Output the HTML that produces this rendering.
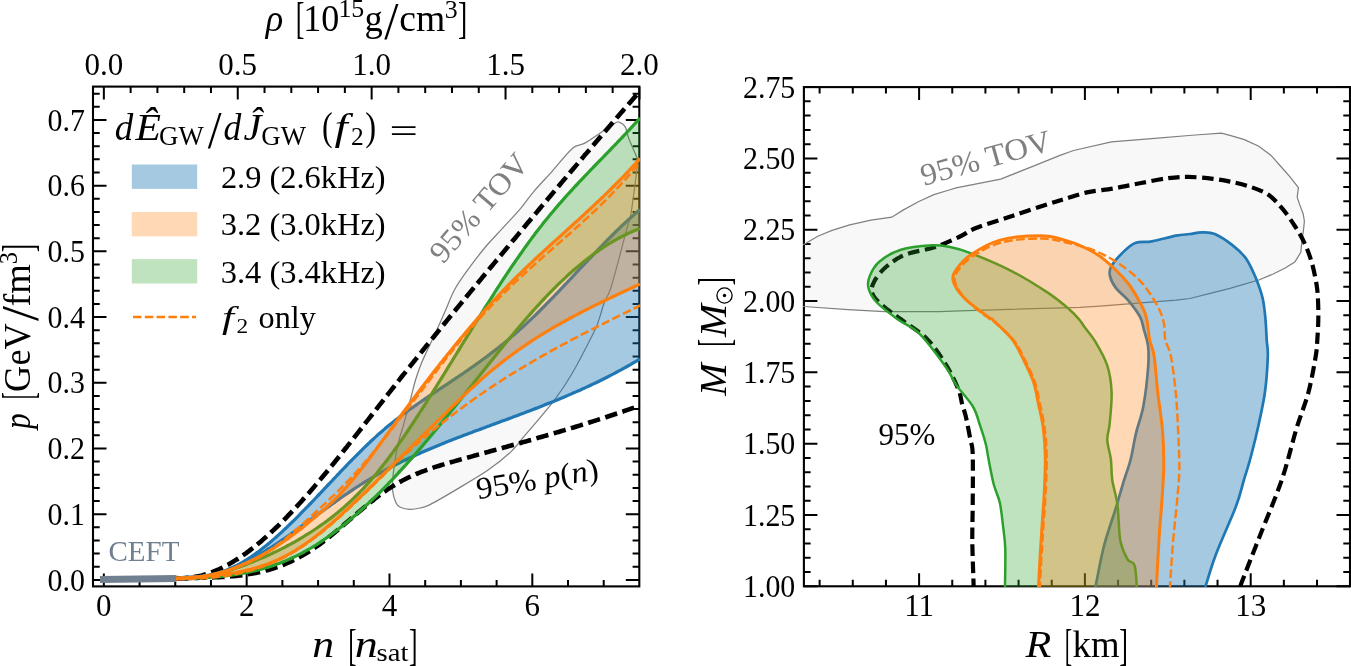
<!DOCTYPE html><html><head><meta charset="utf-8"><style>html,body{margin:0;padding:0;background:#fff;overflow:hidden}svg{display:block;will-change:transform}text{font-family:"Liberation Serif",serif}</style></head><body>
<svg width="1351" height="666" viewBox="0 0 1351 666">
<rect width="1351" height="666" fill="#fff"/>
<defs><clipPath id="cl"><rect x="92.2" y="85.8" width="547.9" height="501.4"/></clipPath>
<clipPath id="cr"><rect x="803.1" y="86.3" width="547.7" height="500.8"/></clipPath></defs>
<path d="M103.85,586.40 V573.40 M139.56,586.40 V579.90 M175.26,586.40 V579.90 M210.96,586.40 V579.90 M246.67,586.40 V573.40 M282.38,586.40 V579.90 M318.08,586.40 V579.90 M353.78,586.40 V579.90 M389.49,586.40 V573.40 M425.19,586.40 V579.90 M460.90,586.40 V579.90 M496.61,586.40 V579.90 M532.31,586.40 V573.40 M568.01,586.40 V579.90 M603.72,586.40 V579.90 M103.85,86.60 V99.60 M130.63,86.60 V93.10 M157.41,86.60 V93.10 M184.19,86.60 V93.10 M210.97,86.60 V93.10 M237.75,86.60 V99.60 M264.52,86.60 V93.10 M291.30,86.60 V93.10 M318.08,86.60 V93.10 M344.86,86.60 V93.10 M371.64,86.60 V99.60 M398.42,86.60 V93.10 M425.20,86.60 V93.10 M451.98,86.60 V93.10 M478.76,86.60 V93.10 M505.54,86.60 V99.60 M532.31,86.60 V93.10 M559.09,86.60 V93.10 M585.87,86.60 V93.10 M612.65,86.60 V93.10 M639.43,86.60 V99.60 M93.00,579.90 H106.50 M639.30,579.90 H625.80 M93.00,566.76 H99.70 M639.30,566.76 H632.60 M93.00,553.62 H99.70 M639.30,553.62 H632.60 M93.00,540.47 H99.70 M639.30,540.47 H632.60 M93.00,527.33 H99.70 M639.30,527.33 H632.60 M93.00,514.19 H106.50 M639.30,514.19 H625.80 M93.00,501.05 H99.70 M639.30,501.05 H632.60 M93.00,487.91 H99.70 M639.30,487.91 H632.60 M93.00,474.76 H99.70 M639.30,474.76 H632.60 M93.00,461.62 H99.70 M639.30,461.62 H632.60 M93.00,448.48 H106.50 M639.30,448.48 H625.80 M93.00,435.34 H99.70 M639.30,435.34 H632.60 M93.00,422.20 H99.70 M639.30,422.20 H632.60 M93.00,409.05 H99.70 M639.30,409.05 H632.60 M93.00,395.91 H99.70 M639.30,395.91 H632.60 M93.00,382.77 H106.50 M639.30,382.77 H625.80 M93.00,369.63 H99.70 M639.30,369.63 H632.60 M93.00,356.49 H99.70 M639.30,356.49 H632.60 M93.00,343.34 H99.70 M639.30,343.34 H632.60 M93.00,330.20 H99.70 M639.30,330.20 H632.60 M93.00,317.06 H106.50 M639.30,317.06 H625.80 M93.00,303.92 H99.70 M639.30,303.92 H632.60 M93.00,290.78 H99.70 M639.30,290.78 H632.60 M93.00,277.63 H99.70 M639.30,277.63 H632.60 M93.00,264.49 H99.70 M639.30,264.49 H632.60 M93.00,251.35 H106.50 M639.30,251.35 H625.80 M93.00,238.21 H99.70 M639.30,238.21 H632.60 M93.00,225.07 H99.70 M639.30,225.07 H632.60 M93.00,211.92 H99.70 M639.30,211.92 H632.60 M93.00,198.78 H99.70 M639.30,198.78 H632.60 M93.00,185.64 H106.50 M639.30,185.64 H625.80 M93.00,172.50 H99.70 M639.30,172.50 H632.60 M93.00,159.36 H99.70 M639.30,159.36 H632.60 M93.00,146.21 H99.70 M639.30,146.21 H632.60 M93.00,133.07 H99.70 M639.30,133.07 H632.60 M93.00,119.93 H106.50 M639.30,119.93 H625.80 M93.00,106.79 H99.70 M639.30,106.79 H632.60 M93.00,93.65 H99.70 M639.30,93.65 H632.60" stroke="#000" stroke-width="2" fill="none"/>
<path d="M819.62,586.30 V579.80 M819.62,87.10 V93.60 M852.78,586.30 V579.80 M852.78,87.10 V93.60 M885.94,586.30 V579.80 M885.94,87.10 V93.60 M919.10,586.30 V573.30 M919.10,87.10 V100.10 M952.26,586.30 V579.80 M952.26,87.10 V93.60 M985.42,586.30 V579.80 M985.42,87.10 V93.60 M1018.58,586.30 V579.80 M1018.58,87.10 V93.60 M1051.74,586.30 V579.80 M1051.74,87.10 V93.60 M1084.90,586.30 V573.30 M1084.90,87.10 V100.10 M1118.06,586.30 V579.80 M1118.06,87.10 V93.60 M1151.22,586.30 V579.80 M1151.22,87.10 V93.60 M1184.38,586.30 V579.80 M1184.38,87.10 V93.60 M1217.54,586.30 V579.80 M1217.54,87.10 V93.60 M1250.70,586.30 V573.30 M1250.70,87.10 V100.10 M1283.86,586.30 V579.80 M1283.86,87.10 V93.60 M1317.02,586.30 V579.80 M1317.02,87.10 V93.60 M803.90,586.30 H817.40 M1350.00,586.30 H1336.50 M803.90,572.04 H810.60 M1350.00,572.04 H1343.30 M803.90,557.77 H810.60 M1350.00,557.77 H1343.30 M803.90,543.51 H810.60 M1350.00,543.51 H1343.30 M803.90,529.25 H810.60 M1350.00,529.25 H1343.30 M803.90,514.98 H817.40 M1350.00,514.98 H1336.50 M803.90,500.72 H810.60 M1350.00,500.72 H1343.30 M803.90,486.46 H810.60 M1350.00,486.46 H1343.30 M803.90,472.20 H810.60 M1350.00,472.20 H1343.30 M803.90,457.93 H810.60 M1350.00,457.93 H1343.30 M803.90,443.67 H817.40 M1350.00,443.67 H1336.50 M803.90,429.41 H810.60 M1350.00,429.41 H1343.30 M803.90,415.14 H810.60 M1350.00,415.14 H1343.30 M803.90,400.88 H810.60 M1350.00,400.88 H1343.30 M803.90,386.62 H810.60 M1350.00,386.62 H1343.30 M803.90,372.35 H817.40 M1350.00,372.35 H1336.50 M803.90,358.09 H810.60 M1350.00,358.09 H1343.30 M803.90,343.83 H810.60 M1350.00,343.83 H1343.30 M803.90,329.57 H810.60 M1350.00,329.57 H1343.30 M803.90,315.30 H810.60 M1350.00,315.30 H1343.30 M803.90,301.04 H817.40 M1350.00,301.04 H1336.50 M803.90,286.78 H810.60 M1350.00,286.78 H1343.30 M803.90,272.51 H810.60 M1350.00,272.51 H1343.30 M803.90,258.25 H810.60 M1350.00,258.25 H1343.30 M803.90,243.99 H810.60 M1350.00,243.99 H1343.30 M803.90,229.72 H817.40 M1350.00,229.72 H1336.50 M803.90,215.46 H810.60 M1350.00,215.46 H1343.30 M803.90,201.20 H810.60 M1350.00,201.20 H1343.30 M803.90,186.94 H810.60 M1350.00,186.94 H1343.30 M803.90,172.67 H810.60 M1350.00,172.67 H1343.30 M803.90,158.41 H817.40 M1350.00,158.41 H1336.50 M803.90,144.15 H810.60 M1350.00,144.15 H1343.30 M803.90,129.88 H810.60 M1350.00,129.88 H1343.30 M803.90,115.62 H810.60 M1350.00,115.62 H1343.30 M803.90,101.36 H810.60 M1350.00,101.36 H1343.30 M803.90,87.09 H817.40 M1350.00,87.09 H1336.50" stroke="#000" stroke-width="2" fill="none"/>
<rect x="93.0" y="86.6" width="546.3" height="499.8" fill="none" stroke="#000" stroke-width="2.1"/>
<rect x="803.9" y="87.1" width="546.1" height="499.2" fill="none" stroke="#000" stroke-width="2.1"/>
<g clip-path="url(#cl)">
<path d="M619.5,122.3 C621.4,122.8 623.5,123.8 625.1,126.6 C626.7,129.3 627.3,134.6 628.9,138.8 C630.5,143.0 633.1,148.2 634.5,151.9 C635.9,155.7 637.2,155.8 637.3,161.3 C637.4,166.8 635.8,178.1 635.0,185.0 C634.2,191.9 633.3,197.6 632.6,202.6 C631.9,207.6 631.6,210.7 630.7,215.0 C629.8,219.3 629.2,220.1 627.0,228.2 C624.8,236.3 620.4,253.5 617.6,263.8 C614.8,274.1 612.3,283.7 610.1,290.1 C607.9,296.5 606.4,297.0 604.5,302.0 C602.6,307.0 600.6,315.0 598.8,320.1 C597.0,325.2 598.1,323.7 593.6,332.7 C589.1,341.7 578.3,362.8 571.8,374.0 C565.3,385.2 560.9,391.5 554.4,400.2 C547.9,408.9 537.8,420.3 532.7,426.3 C527.7,432.3 527.8,432.0 524.1,436.3 C520.4,440.6 516.6,446.5 510.6,452.1 C504.6,457.7 496.7,464.1 488.1,470.1 C479.5,476.1 468.5,482.4 458.8,488.1 C449.1,493.9 436.5,501.3 430.0,504.6 C423.5,507.9 423.4,507.2 420.0,508.0 C416.6,508.8 412.9,509.4 409.6,509.3 C406.3,509.2 402.6,508.3 400.3,507.3 C398.1,506.3 397.4,506.0 396.1,503.1 C394.8,500.2 393.0,494.5 392.5,490.0 C392.0,485.5 392.4,482.0 393.0,476.0 C393.6,470.0 395.0,460.0 396.0,454.0 C397.0,448.0 397.8,444.8 399.0,440.0 C400.2,435.2 401.5,432.0 403.5,425.0 C405.5,418.0 408.8,405.6 410.8,398.1 C412.8,390.6 413.9,385.4 415.5,380.0 C417.1,374.6 418.7,370.2 420.5,365.5 C422.3,360.8 424.2,356.9 426.5,352.0 C428.8,347.1 430.9,342.7 434.0,336.0 C437.1,329.3 441.6,319.3 445.0,311.6 C448.4,303.9 450.7,296.8 454.4,290.0 C458.1,283.2 461.9,278.0 467.0,270.9 C472.1,263.8 479.0,254.7 485.0,247.5 C491.0,240.3 497.1,234.3 503.1,227.7 C509.1,221.1 516.0,213.8 521.1,207.8 C526.2,201.8 528.6,197.6 533.7,191.6 C538.8,185.6 545.2,179.0 551.7,171.8 C558.2,164.6 566.9,153.1 572.6,148.2 C578.3,143.3 578.8,146.7 585.7,142.6 C592.6,138.5 608.2,127.2 613.8,123.8 C619.4,120.4 617.6,121.8 619.5,122.3 Z" fill="#808080" fill-opacity="0.055" stroke="#808080" stroke-width="1.25"/>
<path d="M176.0,578.0 C176.5,578.0 178.0,578.1 179.0,578.2 C180.0,578.2 181.0,578.2 182.0,578.2 C183.0,578.2 184.0,578.2 185.0,578.1 C186.0,578.1 187.0,578.0 188.0,577.9 C189.0,577.8 190.0,577.7 191.0,577.6 C192.0,577.4 193.0,577.3 194.0,577.1 C195.0,577.0 196.0,576.8 197.0,576.6 C198.0,576.4 199.0,576.2 200.0,575.9 C201.0,575.7 202.0,575.4 203.0,575.1 C204.0,574.9 205.0,574.6 206.0,574.3 C207.0,573.9 208.0,573.6 209.0,573.3 C210.0,572.9 211.0,572.6 212.0,572.2 C213.0,571.8 214.0,571.4 215.0,571.0 C216.0,570.6 217.0,570.1 218.0,569.7 C219.0,569.2 220.0,568.8 221.0,568.3 C222.0,567.8 223.0,567.3 224.0,566.8 C225.0,566.3 226.0,565.8 227.0,565.2 C228.0,564.7 229.0,564.1 230.0,563.6 C231.0,563.0 232.0,562.4 233.0,561.8 C234.0,561.2 235.0,560.6 236.0,559.9 C237.0,559.3 238.0,558.7 239.0,558.0 C240.0,557.3 241.0,556.7 242.0,556.0 C243.0,555.3 244.0,554.6 245.0,553.9 C246.0,553.2 247.0,552.4 248.0,551.7 C249.0,550.9 250.0,550.2 251.0,549.4 C252.0,548.6 253.0,547.9 254.0,547.1 C255.0,546.3 256.0,545.5 257.0,544.7 C258.0,543.8 259.0,543.0 260.0,542.2 C261.0,541.3 262.0,540.5 263.0,539.6 C264.0,538.7 265.0,537.9 266.0,537.0 C267.0,536.1 268.0,535.2 269.0,534.3 C270.0,533.4 271.0,532.4 272.0,531.5 C273.0,530.6 274.0,529.6 275.0,528.7 C276.0,527.7 277.0,526.8 278.0,525.8 C279.0,524.8 280.0,523.8 281.0,522.8 C282.0,521.8 283.0,520.8 284.0,519.8 C285.0,518.8 286.0,517.8 287.0,516.8 C288.0,515.7 289.0,514.7 290.0,513.6 C291.0,512.6 292.0,511.5 293.0,510.5 C294.0,509.4 295.0,508.3 296.0,507.2 C297.0,506.2 298.0,505.1 299.0,504.0 C300.0,502.9 301.0,501.8 302.0,500.7 C303.0,499.5 304.0,498.4 305.0,497.3 C306.0,496.2 307.0,495.0 308.0,493.9 C309.0,492.8 310.0,491.6 311.0,490.5 C312.0,489.3 313.0,488.1 314.0,487.0 C315.0,485.8 316.0,484.6 317.0,483.5 C318.0,482.3 319.0,481.1 320.0,479.9 C321.0,478.7 322.0,477.5 323.0,476.3 C324.0,475.1 325.0,473.9 326.0,472.7 C327.0,471.5 328.0,470.3 329.0,469.0 C330.0,467.8 331.0,466.6 332.0,465.4 C333.0,464.1 334.0,462.9 335.0,461.7 C336.0,460.4 337.0,459.2 338.0,458.0 C339.0,456.7 340.0,455.5 341.0,454.2 C342.0,453.0 343.0,451.7 344.0,450.4 C345.0,449.2 346.0,447.9 347.0,446.7 C348.0,445.4 349.0,444.1 350.0,442.9 C351.0,441.6 352.0,440.3 353.0,439.1 C354.0,437.8 355.0,436.5 356.0,435.2 C357.0,434.0 358.0,432.7 359.0,431.4 C360.0,430.1 361.0,428.8 362.0,427.6 C363.0,426.3 364.0,425.0 365.0,423.7 C366.0,422.4 367.0,421.1 368.0,419.9 C369.0,418.6 370.0,417.3 371.0,416.0 C372.0,414.7 373.0,413.4 374.0,412.1 C375.0,410.9 376.0,409.6 377.0,408.3 C378.0,407.0 379.0,405.7 380.0,404.4 C381.0,403.2 382.0,401.9 383.0,400.6 C384.0,399.3 385.0,398.0 386.0,396.8 C387.0,395.5 388.0,394.2 389.0,392.9 C390.0,391.7 391.0,390.4 392.0,389.1 C393.0,387.8 394.0,386.6 395.0,385.3 C396.0,384.0 397.0,382.8 398.0,381.5 C399.0,380.2 400.0,379.0 401.0,377.7 C402.0,376.4 403.0,375.2 404.0,373.9 C405.0,372.7 406.0,371.4 407.0,370.1 C408.0,368.9 409.0,367.6 410.0,366.4 C411.0,365.1 412.0,363.9 413.0,362.6 C414.0,361.4 415.0,360.1 416.0,358.9 C417.0,357.6 418.0,356.4 419.0,355.1 C420.0,353.9 421.0,352.6 422.0,351.4 C423.0,350.1 424.0,348.9 425.0,347.6 C426.0,346.4 427.0,345.1 428.0,343.9 C429.0,342.7 430.0,341.4 431.0,340.2 C432.0,339.0 433.0,337.7 434.0,336.5 C435.0,335.2 436.0,334.0 437.0,332.8 C438.0,331.5 439.0,330.3 440.0,329.1 C441.0,327.8 442.0,326.6 443.0,325.4 C444.0,324.2 445.0,322.9 446.0,321.7 C447.0,320.5 448.0,319.2 449.0,318.0 C450.0,316.8 451.0,315.6 452.0,314.3 C453.0,313.1 454.0,311.9 455.0,310.7 C456.0,309.4 457.0,308.2 458.0,307.0 C459.0,305.8 460.0,304.6 461.0,303.3 C462.0,302.1 463.0,300.9 464.0,299.7 C465.0,298.5 466.0,297.3 467.0,296.0 C468.0,294.8 469.0,293.6 470.0,292.4 C471.0,291.2 472.0,290.0 473.0,288.8 C474.0,287.5 475.0,286.3 476.0,285.1 C477.0,283.9 478.0,282.7 479.0,281.5 C480.0,280.3 481.0,279.1 482.0,277.9 C483.0,276.7 484.0,275.4 485.0,274.2 C486.0,273.0 487.0,271.8 488.0,270.6 C489.0,269.4 490.0,268.2 491.0,267.0 C492.0,265.8 493.0,264.6 494.0,263.4 C495.0,262.2 496.0,261.0 497.0,259.8 C498.0,258.6 499.0,257.4 500.0,256.2 C501.0,255.0 502.0,253.8 503.0,252.6 C504.0,251.4 505.0,250.2 506.0,249.0 C507.0,247.8 508.0,246.6 509.0,245.4 C510.0,244.2 511.0,243.0 512.0,241.8 C513.0,240.6 514.0,239.4 515.0,238.2 C516.0,237.0 517.0,235.8 518.0,234.6 C519.0,233.4 520.0,232.2 521.0,231.0 C522.0,229.8 523.0,228.6 524.0,227.4 C525.0,226.2 526.0,225.0 527.0,223.8 C528.0,222.6 529.0,221.4 530.0,220.2 C531.0,219.0 532.0,217.8 533.0,216.6 C534.0,215.5 535.0,214.3 536.0,213.1 C537.0,211.9 538.0,210.7 539.0,209.5 C540.0,208.3 541.0,207.1 542.0,205.9 C543.0,204.7 544.0,203.5 545.0,202.3 C546.0,201.1 547.0,200.0 548.0,198.8 C549.0,197.6 550.0,196.4 551.0,195.2 C552.0,194.0 553.0,192.8 554.0,191.6 C555.0,190.4 556.0,189.2 557.0,188.1 C558.0,186.9 559.0,185.7 560.0,184.5 C561.0,183.3 562.0,182.1 563.0,180.9 C564.0,179.8 565.0,178.6 566.0,177.4 C567.0,176.2 568.0,175.0 569.0,173.8 C570.0,172.6 571.0,171.5 572.0,170.3 C573.0,169.1 574.0,167.9 575.0,166.7 C576.0,165.6 577.0,164.4 578.0,163.2 C579.0,162.0 580.0,160.8 581.0,159.7 C582.0,158.5 583.0,157.3 584.0,156.1 C585.0,154.9 586.0,153.8 587.0,152.6 C588.0,151.4 589.0,150.2 590.0,149.1 C591.0,147.9 592.0,146.7 593.0,145.5 C594.0,144.4 595.0,143.2 596.0,142.0 C597.0,140.9 598.0,139.7 599.0,138.5 C600.0,137.3 601.0,136.2 602.0,135.0 C603.0,133.8 604.0,132.7 605.0,131.5 C606.0,130.3 607.0,129.2 608.0,128.0 C609.0,126.8 610.0,125.7 611.0,124.5 C612.0,123.3 613.0,122.2 614.0,121.0 C615.0,119.8 616.0,118.7 617.0,117.5 C618.0,116.4 619.0,115.2 620.0,114.0 C621.0,112.9 622.0,111.7 623.0,110.6 C624.0,109.4 625.0,108.3 626.0,107.1 C627.0,105.9 628.0,104.8 629.0,103.6 C630.0,102.5 631.0,101.3 632.0,100.2 C633.0,99.0 634.0,97.9 635.0,96.7 C636.0,95.6 637.2,94.2 638.0,93.3 C638.8,92.3 639.7,91.4 640.0,91.0" fill="none" stroke="#000" stroke-width="4.6" stroke-dasharray="12.5,5.5"/>
<path d="M176.0,578.5 C176.5,578.5 178.0,578.4 179.0,578.4 C180.0,578.3 181.0,578.3 182.0,578.3 C183.0,578.2 184.0,578.2 185.0,578.2 C186.0,578.1 187.0,578.1 188.0,578.1 C189.0,578.1 190.0,578.0 191.0,578.0 C192.0,578.0 193.0,578.0 194.0,577.9 C195.0,577.9 196.0,577.9 197.0,577.9 C198.0,577.8 199.0,577.8 200.0,577.8 C201.0,577.8 202.0,577.7 203.0,577.7 C204.0,577.7 205.0,577.7 206.0,577.6 C207.0,577.6 208.0,577.6 209.0,577.5 C210.0,577.5 211.0,577.5 212.0,577.4 C213.0,577.4 214.0,577.4 215.0,577.3 C216.0,577.3 217.0,577.2 218.0,577.2 C219.0,577.1 220.0,577.1 221.0,577.0 C222.0,577.0 223.0,576.9 224.0,576.9 C225.0,576.8 226.0,576.7 227.0,576.7 C228.0,576.6 229.0,576.5 230.0,576.4 C231.0,576.3 232.0,576.3 233.0,576.2 C234.0,576.1 235.0,576.0 236.0,575.9 C237.0,575.8 238.0,575.7 239.0,575.5 C240.0,575.4 241.0,575.3 242.0,575.2 C243.0,575.1 244.0,574.9 245.0,574.8 C246.0,574.6 247.0,574.5 248.0,574.3 C249.0,574.2 250.0,574.0 251.0,573.8 C252.0,573.6 253.0,573.5 254.0,573.3 C255.0,573.1 256.0,572.9 257.0,572.7 C258.0,572.5 259.0,572.2 260.0,572.0 C261.0,571.8 262.0,571.6 263.0,571.3 C264.0,571.1 265.0,570.8 266.0,570.5 C267.0,570.3 268.0,570.0 269.0,569.7 C270.0,569.4 271.0,569.1 272.0,568.8 C273.0,568.5 274.0,568.2 275.0,567.8 C276.0,567.5 277.0,567.1 278.0,566.8 C279.0,566.4 280.0,566.1 281.0,565.7 C282.0,565.3 283.0,564.9 284.0,564.5 C285.0,564.1 286.0,563.7 287.0,563.2 C288.0,562.8 289.0,562.4 290.0,561.9 C291.0,561.5 292.0,561.0 293.0,560.5 C294.0,560.0 295.0,559.5 296.0,559.0 C297.0,558.5 298.0,558.0 299.0,557.4 C300.0,556.9 301.0,556.3 302.0,555.8 C303.0,555.2 304.0,554.6 305.0,554.0 C306.0,553.4 307.0,552.8 308.0,552.2 C309.0,551.6 310.0,550.9 311.0,550.3 C312.0,549.6 313.0,549.0 314.0,548.3 C315.0,547.6 316.0,546.9 317.0,546.2 C318.0,545.5 319.0,544.7 320.0,544.0 C321.0,543.3 322.0,542.5 323.0,541.8 C324.0,541.0 325.0,540.2 326.0,539.4 C327.0,538.7 328.0,537.9 329.0,537.1 C330.0,536.3 331.0,535.5 332.0,534.7 C333.0,533.8 334.0,533.0 335.0,532.2 C336.0,531.4 337.0,530.5 338.0,529.7 C339.0,528.8 340.0,528.0 341.0,527.2 C342.0,526.3 343.0,525.5 344.0,524.6 C345.0,523.8 346.0,522.9 347.0,522.0 C348.0,521.2 349.0,520.3 350.0,519.5 C351.0,518.6 352.0,517.7 353.0,516.9 C354.0,516.0 355.0,515.2 356.0,514.3 C357.0,513.5 358.0,512.6 359.0,511.8 C360.0,510.9 361.0,510.1 362.0,509.2 C363.0,508.4 364.0,507.6 365.0,506.7 C366.0,505.9 367.0,505.1 368.0,504.3 C369.0,503.4 370.0,502.6 371.0,501.8 C372.0,501.0 373.0,500.2 374.0,499.5 C375.0,498.7 376.0,497.9 377.0,497.1 C378.0,496.4 379.0,495.6 380.0,494.9 C381.0,494.1 382.0,493.4 383.0,492.7 C384.0,492.0 385.0,491.3 386.0,490.6 C387.0,489.9 388.0,489.2 389.0,488.6 C390.0,487.9 391.0,487.3 392.0,486.6 C393.0,486.0 394.0,485.4 395.0,484.8 C396.0,484.2 397.0,483.6 398.0,483.0 C399.0,482.5 400.0,481.9 401.0,481.4 C402.0,480.8 403.0,480.3 404.0,479.8 C405.0,479.3 406.0,478.8 407.0,478.3 C408.0,477.8 409.0,477.3 410.0,476.8 C411.0,476.4 412.0,475.9 413.0,475.5 C414.0,475.0 415.0,474.6 416.0,474.1 C417.0,473.7 418.0,473.3 419.0,472.9 C420.0,472.5 421.0,472.1 422.0,471.7 C423.0,471.3 424.0,470.9 425.0,470.6 C426.0,470.2 427.0,469.8 428.0,469.5 C429.0,469.1 430.0,468.8 431.0,468.4 C432.0,468.1 433.0,467.7 434.0,467.4 C435.0,467.1 436.0,466.7 437.0,466.4 C438.0,466.1 439.0,465.8 440.0,465.5 C441.0,465.2 442.0,464.9 443.0,464.6 C444.0,464.3 445.0,464.0 446.0,463.7 C447.0,463.4 448.0,463.1 449.0,462.8 C450.0,462.5 451.0,462.2 452.0,461.9 C453.0,461.7 454.0,461.4 455.0,461.1 C456.0,460.8 457.0,460.5 458.0,460.3 C459.0,460.0 460.0,459.7 461.0,459.4 C462.0,459.1 463.0,458.9 464.0,458.6 C465.0,458.3 466.0,458.0 467.0,457.8 C468.0,457.5 469.0,457.2 470.0,456.9 C471.0,456.7 472.0,456.4 473.0,456.1 C474.0,455.8 475.0,455.5 476.0,455.3 C477.0,455.0 478.0,454.7 479.0,454.4 C480.0,454.2 481.0,453.9 482.0,453.6 C483.0,453.3 484.0,453.1 485.0,452.8 C486.0,452.5 487.0,452.2 488.0,452.0 C489.0,451.7 490.0,451.4 491.0,451.1 C492.0,450.9 493.0,450.6 494.0,450.3 C495.0,450.0 496.0,449.7 497.0,449.5 C498.0,449.2 499.0,448.9 500.0,448.6 C501.0,448.4 502.0,448.1 503.0,447.8 C504.0,447.5 505.0,447.2 506.0,447.0 C507.0,446.7 508.0,446.4 509.0,446.1 C510.0,445.9 511.0,445.6 512.0,445.3 C513.0,445.0 514.0,444.7 515.0,444.5 C516.0,444.2 517.0,443.9 518.0,443.6 C519.0,443.3 520.0,443.1 521.0,442.8 C522.0,442.5 523.0,442.2 524.0,441.9 C525.0,441.6 526.0,441.4 527.0,441.1 C528.0,440.8 529.0,440.5 530.0,440.2 C531.0,439.9 532.0,439.7 533.0,439.4 C534.0,439.1 535.0,438.8 536.0,438.5 C537.0,438.2 538.0,437.9 539.0,437.6 C540.0,437.4 541.0,437.1 542.0,436.8 C543.0,436.5 544.0,436.2 545.0,435.9 C546.0,435.6 547.0,435.3 548.0,435.0 C549.0,434.8 550.0,434.5 551.0,434.2 C552.0,433.9 553.0,433.6 554.0,433.3 C555.0,433.0 556.0,432.7 557.0,432.4 C558.0,432.1 559.0,431.8 560.0,431.5 C561.0,431.2 562.0,430.9 563.0,430.6 C564.0,430.3 565.0,430.0 566.0,429.7 C567.0,429.4 568.0,429.1 569.0,428.8 C570.0,428.5 571.0,428.2 572.0,427.9 C573.0,427.6 574.0,427.3 575.0,427.0 C576.0,426.7 577.0,426.4 578.0,426.1 C579.0,425.8 580.0,425.4 581.0,425.1 C582.0,424.8 583.0,424.5 584.0,424.2 C585.0,423.9 586.0,423.6 587.0,423.3 C588.0,423.0 589.0,422.6 590.0,422.3 C591.0,422.0 592.0,421.7 593.0,421.4 C594.0,421.1 595.0,420.7 596.0,420.4 C597.0,420.1 598.0,419.8 599.0,419.4 C600.0,419.1 601.0,418.8 602.0,418.5 C603.0,418.1 604.0,417.8 605.0,417.5 C606.0,417.2 607.0,416.8 608.0,416.5 C609.0,416.2 610.0,415.8 611.0,415.5 C612.0,415.2 613.0,414.8 614.0,414.5 C615.0,414.2 616.0,413.8 617.0,413.5 C618.0,413.2 619.0,412.8 620.0,412.5 C621.0,412.1 622.0,411.8 623.0,411.5 C624.0,411.1 625.0,410.8 626.0,410.4 C627.0,410.1 628.0,409.7 629.0,409.4 C630.0,409.0 631.0,408.7 632.0,408.3 C633.0,408.0 634.0,407.6 635.0,407.3 C636.0,406.9 637.2,406.5 638.0,406.2 C638.8,405.9 639.7,405.6 640.0,405.5" fill="none" stroke="#000" stroke-width="4.6" stroke-dasharray="12.5,5.5"/>
<path d="M176.0,578.2 C176.5,578.2 178.0,578.0 179.0,578.0 C180.0,577.9 181.0,577.8 182.0,577.7 C183.0,577.7 184.0,577.6 185.0,577.5 C186.0,577.4 187.0,577.4 188.0,577.3 C189.0,577.2 190.0,577.2 191.0,577.1 C192.0,577.0 193.0,576.9 194.0,576.8 C195.0,576.8 196.0,576.7 197.0,576.6 C198.0,576.5 199.0,576.4 200.0,576.3 C201.0,576.1 202.0,576.0 203.0,575.9 C204.0,575.8 205.0,575.6 206.0,575.5 C207.0,575.3 208.0,575.1 209.0,575.0 C210.0,574.8 211.0,574.6 212.0,574.4 C213.0,574.2 214.0,573.9 215.0,573.7 C216.0,573.5 217.0,573.2 218.0,572.9 C219.0,572.6 220.0,572.3 221.0,572.0 C222.0,571.7 223.0,571.4 224.0,571.0 C225.0,570.6 226.0,570.3 227.0,569.9 C228.0,569.5 229.0,569.0 230.0,568.6 C231.0,568.2 232.0,567.7 233.0,567.2 C234.0,566.8 235.0,566.3 236.0,565.8 C237.0,565.2 238.0,564.7 239.0,564.2 C240.0,563.6 241.0,563.1 242.0,562.5 C243.0,561.9 244.0,561.3 245.0,560.7 C246.0,560.1 247.0,559.5 248.0,558.8 C249.0,558.2 250.0,557.5 251.0,556.9 C252.0,556.2 253.0,555.5 254.0,554.8 C255.0,554.1 256.0,553.4 257.0,552.6 C258.0,551.9 259.0,551.2 260.0,550.4 C261.0,549.6 262.0,548.9 263.0,548.1 C264.0,547.3 265.0,546.5 266.0,545.7 C267.0,544.9 268.0,544.1 269.0,543.2 C270.0,542.4 271.0,541.5 272.0,540.7 C273.0,539.8 274.0,539.0 275.0,538.1 C276.0,537.2 277.0,536.3 278.0,535.4 C279.0,534.5 280.0,533.6 281.0,532.7 C282.0,531.8 283.0,530.8 284.0,529.9 C285.0,529.0 286.0,528.0 287.0,527.1 C288.0,526.1 289.0,525.2 290.0,524.2 C291.0,523.2 292.0,522.2 293.0,521.3 C294.0,520.3 295.0,519.3 296.0,518.3 C297.0,517.3 298.0,516.3 299.0,515.3 C300.0,514.3 301.0,513.3 302.0,512.2 C303.0,511.2 304.0,510.2 305.0,509.2 C306.0,508.1 307.0,507.1 308.0,506.1 C309.0,505.0 310.0,504.0 311.0,503.0 C312.0,501.9 313.0,500.9 314.0,499.8 C315.0,498.8 316.0,497.7 317.0,496.7 C318.0,495.6 319.0,494.5 320.0,493.5 C321.0,492.4 322.0,491.4 323.0,490.3 C324.0,489.2 325.0,488.2 326.0,487.1 C327.0,486.1 328.0,485.0 329.0,483.9 C330.0,482.9 331.0,481.8 332.0,480.8 C333.0,479.7 334.0,478.6 335.0,477.6 C336.0,476.5 337.0,475.5 338.0,474.4 C339.0,473.3 340.0,472.3 341.0,471.2 C342.0,470.2 343.0,469.1 344.0,468.1 C345.0,467.1 346.0,466.0 347.0,465.0 C348.0,463.9 349.0,462.9 350.0,461.9 C351.0,460.9 352.0,459.8 353.0,458.8 C354.0,457.8 355.0,456.8 356.0,455.8 C357.0,454.8 358.0,453.8 359.0,452.8 C360.0,451.8 361.0,450.8 362.0,449.8 C363.0,448.8 364.0,447.8 365.0,446.9 C366.0,445.9 367.0,444.9 368.0,444.0 C369.0,443.0 370.0,442.1 371.0,441.1 C372.0,440.2 373.0,439.3 374.0,438.4 C375.0,437.4 376.0,436.5 377.0,435.6 C378.0,434.7 379.0,433.8 380.0,433.0 C381.0,432.1 382.0,431.2 383.0,430.4 C384.0,429.5 385.0,428.7 386.0,427.8 C387.0,427.0 388.0,426.1 389.0,425.3 C390.0,424.5 391.0,423.7 392.0,422.9 C393.0,422.1 394.0,421.3 395.0,420.5 C396.0,419.7 397.0,419.0 398.0,418.2 C399.0,417.4 400.0,416.7 401.0,415.9 C402.0,415.2 403.0,414.4 404.0,413.7 C405.0,412.9 406.0,412.2 407.0,411.5 C408.0,410.7 409.0,410.0 410.0,409.3 C411.0,408.6 412.0,407.9 413.0,407.2 C414.0,406.5 415.0,405.8 416.0,405.1 C417.0,404.4 418.0,403.7 419.0,403.0 C420.0,402.3 421.0,401.6 422.0,400.9 C423.0,400.3 424.0,399.6 425.0,398.9 C426.0,398.2 427.0,397.6 428.0,396.9 C429.0,396.2 430.0,395.5 431.0,394.9 C432.0,394.2 433.0,393.5 434.0,392.9 C435.0,392.2 436.0,391.6 437.0,390.9 C438.0,390.2 439.0,389.6 440.0,388.9 C441.0,388.2 442.0,387.6 443.0,386.9 C444.0,386.2 445.0,385.6 446.0,384.9 C447.0,384.3 448.0,383.6 449.0,382.9 C450.0,382.3 451.0,381.6 452.0,380.9 C453.0,380.2 454.0,379.6 455.0,378.9 C456.0,378.2 457.0,377.5 458.0,376.9 C459.0,376.2 460.0,375.5 461.0,374.8 C462.0,374.1 463.0,373.5 464.0,372.8 C465.0,372.1 466.0,371.4 467.0,370.7 C468.0,370.0 469.0,369.3 470.0,368.6 C471.0,367.9 472.0,367.2 473.0,366.5 C474.0,365.8 475.0,365.1 476.0,364.4 C477.0,363.7 478.0,362.9 479.0,362.2 C480.0,361.5 481.0,360.8 482.0,360.0 C483.0,359.3 484.0,358.6 485.0,357.8 C486.0,357.1 487.0,356.3 488.0,355.6 C489.0,354.8 490.0,354.1 491.0,353.3 C492.0,352.6 493.0,351.8 494.0,351.0 C495.0,350.2 496.0,349.5 497.0,348.7 C498.0,347.9 499.0,347.1 500.0,346.3 C501.0,345.5 502.0,344.7 503.0,343.9 C504.0,343.1 505.0,342.3 506.0,341.5 C507.0,340.6 508.0,339.8 509.0,339.0 C510.0,338.1 511.0,337.3 512.0,336.4 C513.0,335.6 514.0,334.7 515.0,333.9 C516.0,333.0 517.0,332.1 518.0,331.2 C519.0,330.3 520.0,329.5 521.0,328.6 C522.0,327.7 523.0,326.8 524.0,325.8 C525.0,324.9 526.0,324.0 527.0,323.1 C528.0,322.1 529.0,321.2 530.0,320.2 C531.0,319.3 532.0,318.3 533.0,317.4 C534.0,316.4 535.0,315.4 536.0,314.5 C537.0,313.5 538.0,312.5 539.0,311.5 C540.0,310.5 541.0,309.5 542.0,308.5 C543.0,307.5 544.0,306.5 545.0,305.5 C546.0,304.5 547.0,303.5 548.0,302.4 C549.0,301.4 550.0,300.4 551.0,299.4 C552.0,298.3 553.0,297.3 554.0,296.3 C555.0,295.2 556.0,294.2 557.0,293.1 C558.0,292.1 559.0,291.0 560.0,290.0 C561.0,288.9 562.0,287.9 563.0,286.8 C564.0,285.8 565.0,284.7 566.0,283.6 C567.0,282.6 568.0,281.5 569.0,280.5 C570.0,279.4 571.0,278.3 572.0,277.3 C573.0,276.2 574.0,275.1 575.0,274.1 C576.0,273.0 577.0,271.9 578.0,270.9 C579.0,269.8 580.0,268.7 581.0,267.7 C582.0,266.6 583.0,265.5 584.0,264.5 C585.0,263.4 586.0,262.4 587.0,261.3 C588.0,260.2 589.0,259.2 590.0,258.1 C591.0,257.1 592.0,256.0 593.0,255.0 C594.0,253.9 595.0,252.9 596.0,251.8 C597.0,250.8 598.0,249.7 599.0,248.7 C600.0,247.7 601.0,246.6 602.0,245.6 C603.0,244.6 604.0,243.5 605.0,242.5 C606.0,241.5 607.0,240.5 608.0,239.5 C609.0,238.5 610.0,237.5 611.0,236.5 C612.0,235.5 613.0,234.5 614.0,233.5 C615.0,232.5 616.0,231.5 617.0,230.5 C618.0,229.6 619.0,228.6 620.0,227.6 C621.0,226.7 622.0,225.7 623.0,224.8 C624.0,223.8 625.0,222.9 626.0,221.9 C627.0,221.0 628.0,220.1 629.0,219.2 C630.0,218.3 631.0,217.4 632.0,216.5 C633.0,215.6 634.0,214.7 635.0,213.8 C636.0,212.9 637.2,211.9 638.0,211.2 C638.8,210.5 639.7,209.8 640.0,209.5 L640.0,359.0 C639.7,359.2 638.8,359.7 638.0,360.2 C637.2,360.7 636.0,361.4 635.0,361.9 C634.0,362.5 633.0,363.1 632.0,363.7 C631.0,364.3 630.0,364.8 629.0,365.4 C628.0,366.0 627.0,366.5 626.0,367.1 C625.0,367.7 624.0,368.2 623.0,368.8 C622.0,369.3 621.0,369.9 620.0,370.4 C619.0,370.9 618.0,371.5 617.0,372.0 C616.0,372.5 615.0,373.1 614.0,373.6 C613.0,374.1 612.0,374.6 611.0,375.2 C610.0,375.7 609.0,376.2 608.0,376.7 C607.0,377.2 606.0,377.7 605.0,378.2 C604.0,378.7 603.0,379.2 602.0,379.7 C601.0,380.2 600.0,380.7 599.0,381.2 C598.0,381.7 597.0,382.2 596.0,382.7 C595.0,383.1 594.0,383.6 593.0,384.1 C592.0,384.6 591.0,385.0 590.0,385.5 C589.0,386.0 588.0,386.4 587.0,386.9 C586.0,387.4 585.0,387.8 584.0,388.3 C583.0,388.7 582.0,389.2 581.0,389.7 C580.0,390.1 579.0,390.5 578.0,391.0 C577.0,391.4 576.0,391.9 575.0,392.3 C574.0,392.8 573.0,393.2 572.0,393.6 C571.0,394.1 570.0,394.5 569.0,394.9 C568.0,395.4 567.0,395.8 566.0,396.2 C565.0,396.6 564.0,397.1 563.0,397.5 C562.0,397.9 561.0,398.3 560.0,398.7 C559.0,399.2 558.0,399.6 557.0,400.0 C556.0,400.4 555.0,400.8 554.0,401.2 C553.0,401.6 552.0,402.0 551.0,402.4 C550.0,402.8 549.0,403.2 548.0,403.6 C547.0,404.0 546.0,404.4 545.0,404.8 C544.0,405.2 543.0,405.6 542.0,406.0 C541.0,406.4 540.0,406.8 539.0,407.2 C538.0,407.6 537.0,408.0 536.0,408.4 C535.0,408.7 534.0,409.1 533.0,409.5 C532.0,409.9 531.0,410.3 530.0,410.7 C529.0,411.1 528.0,411.4 527.0,411.8 C526.0,412.2 525.0,412.6 524.0,413.0 C523.0,413.3 522.0,413.7 521.0,414.1 C520.0,414.5 519.0,414.8 518.0,415.2 C517.0,415.6 516.0,416.0 515.0,416.3 C514.0,416.7 513.0,417.1 512.0,417.5 C511.0,417.8 510.0,418.2 509.0,418.6 C508.0,418.9 507.0,419.3 506.0,419.7 C505.0,420.1 504.0,420.4 503.0,420.8 C502.0,421.2 501.0,421.5 500.0,421.9 C499.0,422.3 498.0,422.6 497.0,423.0 C496.0,423.4 495.0,423.8 494.0,424.1 C493.0,424.5 492.0,424.9 491.0,425.2 C490.0,425.6 489.0,426.0 488.0,426.3 C487.0,426.7 486.0,427.1 485.0,427.5 C484.0,427.8 483.0,428.2 482.0,428.6 C481.0,428.9 480.0,429.3 479.0,429.7 C478.0,430.1 477.0,430.4 476.0,430.8 C475.0,431.2 474.0,431.5 473.0,431.9 C472.0,432.3 471.0,432.7 470.0,433.0 C469.0,433.4 468.0,433.8 467.0,434.2 C466.0,434.6 465.0,434.9 464.0,435.3 C463.0,435.7 462.0,436.1 461.0,436.5 C460.0,436.8 459.0,437.2 458.0,437.6 C457.0,438.0 456.0,438.4 455.0,438.8 C454.0,439.2 453.0,439.5 452.0,439.9 C451.0,440.3 450.0,440.7 449.0,441.1 C448.0,441.5 447.0,441.9 446.0,442.3 C445.0,442.7 444.0,443.1 443.0,443.5 C442.0,443.9 441.0,444.3 440.0,444.7 C439.0,445.1 438.0,445.5 437.0,446.0 C436.0,446.4 435.0,446.8 434.0,447.2 C433.0,447.6 432.0,448.0 431.0,448.5 C430.0,448.9 429.0,449.3 428.0,449.7 C427.0,450.2 426.0,450.6 425.0,451.0 C424.0,451.5 423.0,451.9 422.0,452.3 C421.0,452.8 420.0,453.2 419.0,453.7 C418.0,454.1 417.0,454.6 416.0,455.0 C415.0,455.5 414.0,455.9 413.0,456.4 C412.0,456.9 411.0,457.3 410.0,457.8 C409.0,458.3 408.0,458.7 407.0,459.2 C406.0,459.7 405.0,460.2 404.0,460.6 C403.0,461.1 402.0,461.6 401.0,462.1 C400.0,462.6 399.0,463.1 398.0,463.6 C397.0,464.1 396.0,464.6 395.0,465.1 C394.0,465.6 393.0,466.1 392.0,466.7 C391.0,467.2 390.0,467.7 389.0,468.2 C388.0,468.8 387.0,469.3 386.0,469.8 C385.0,470.4 384.0,470.9 383.0,471.5 C382.0,472.0 381.0,472.6 380.0,473.1 C379.0,473.7 378.0,474.3 377.0,474.8 C376.0,475.4 375.0,476.0 374.0,476.6 C373.0,477.1 372.0,477.7 371.0,478.3 C370.0,478.9 369.0,479.5 368.0,480.1 C367.0,480.7 366.0,481.3 365.0,481.9 C364.0,482.6 363.0,483.2 362.0,483.8 C361.0,484.4 360.0,485.1 359.0,485.7 C358.0,486.4 357.0,487.0 356.0,487.7 C355.0,488.3 354.0,489.0 353.0,489.6 C352.0,490.3 351.0,491.0 350.0,491.6 C349.0,492.3 348.0,493.0 347.0,493.7 C346.0,494.4 345.0,495.0 344.0,495.7 C343.0,496.4 342.0,497.1 341.0,497.8 C340.0,498.5 339.0,499.2 338.0,499.9 C337.0,500.6 336.0,501.3 335.0,502.1 C334.0,502.8 333.0,503.5 332.0,504.2 C331.0,504.9 330.0,505.6 329.0,506.4 C328.0,507.1 327.0,507.8 326.0,508.5 C325.0,509.3 324.0,510.0 323.0,510.7 C322.0,511.4 321.0,512.2 320.0,512.9 C319.0,513.6 318.0,514.4 317.0,515.1 C316.0,515.8 315.0,516.6 314.0,517.3 C313.0,518.0 312.0,518.7 311.0,519.5 C310.0,520.2 309.0,520.9 308.0,521.7 C307.0,522.4 306.0,523.1 305.0,523.8 C304.0,524.6 303.0,525.3 302.0,526.0 C301.0,526.7 300.0,527.5 299.0,528.2 C298.0,528.9 297.0,529.6 296.0,530.3 C295.0,531.1 294.0,531.8 293.0,532.5 C292.0,533.2 291.0,533.9 290.0,534.6 C289.0,535.3 288.0,536.0 287.0,536.7 C286.0,537.4 285.0,538.1 284.0,538.8 C283.0,539.4 282.0,540.1 281.0,540.8 C280.0,541.5 279.0,542.2 278.0,542.8 C277.0,543.5 276.0,544.2 275.0,544.8 C274.0,545.5 273.0,546.1 272.0,546.8 C271.0,547.4 270.0,548.1 269.0,548.7 C268.0,549.3 267.0,549.9 266.0,550.6 C265.0,551.2 264.0,551.8 263.0,552.4 C262.0,553.0 261.0,553.6 260.0,554.2 C259.0,554.8 258.0,555.4 257.0,556.0 C256.0,556.5 255.0,557.1 254.0,557.7 C253.0,558.2 252.0,558.8 251.0,559.3 C250.0,559.9 249.0,560.4 248.0,560.9 C247.0,561.4 246.0,561.9 245.0,562.4 C244.0,563.0 243.0,563.4 242.0,563.9 C241.0,564.4 240.0,564.9 239.0,565.4 C238.0,565.8 237.0,566.3 236.0,566.7 C235.0,567.2 234.0,567.6 233.0,568.0 C232.0,568.4 231.0,568.9 230.0,569.3 C229.0,569.7 228.0,570.1 227.0,570.4 C226.0,570.8 225.0,571.2 224.0,571.5 C223.0,571.9 222.0,572.2 221.0,572.6 C220.0,572.9 219.0,573.2 218.0,573.5 C217.0,573.8 216.0,574.1 215.0,574.4 C214.0,574.7 213.0,575.0 212.0,575.2 C211.0,575.5 210.0,575.7 209.0,575.9 C208.0,576.2 207.0,576.4 206.0,576.6 C205.0,576.8 204.0,577.0 203.0,577.2 C202.0,577.3 201.0,577.5 200.0,577.7 C199.0,577.8 198.0,577.9 197.0,578.1 C196.0,578.2 195.0,578.3 194.0,578.4 C193.0,578.5 192.0,578.5 191.0,578.6 C190.0,578.6 189.0,578.7 188.0,578.7 C187.0,578.7 186.0,578.8 185.0,578.8 C184.0,578.8 183.0,578.7 182.0,578.7 C181.0,578.7 180.0,578.6 179.0,578.5 C178.0,578.5 176.5,578.3 176.0,578.3 Z" fill="#1f77b4" fill-opacity="0.40"/>
<path d="M176.0,578.2 C176.5,578.2 178.0,578.0 179.0,578.0 C180.0,577.9 181.0,577.8 182.0,577.7 C183.0,577.7 184.0,577.6 185.0,577.5 C186.0,577.4 187.0,577.4 188.0,577.3 C189.0,577.2 190.0,577.2 191.0,577.1 C192.0,577.0 193.0,576.9 194.0,576.8 C195.0,576.8 196.0,576.7 197.0,576.6 C198.0,576.5 199.0,576.4 200.0,576.3 C201.0,576.1 202.0,576.0 203.0,575.9 C204.0,575.8 205.0,575.6 206.0,575.5 C207.0,575.3 208.0,575.1 209.0,575.0 C210.0,574.8 211.0,574.6 212.0,574.4 C213.0,574.2 214.0,573.9 215.0,573.7 C216.0,573.5 217.0,573.2 218.0,572.9 C219.0,572.6 220.0,572.3 221.0,572.0 C222.0,571.7 223.0,571.4 224.0,571.0 C225.0,570.6 226.0,570.3 227.0,569.9 C228.0,569.5 229.0,569.0 230.0,568.6 C231.0,568.2 232.0,567.7 233.0,567.2 C234.0,566.8 235.0,566.3 236.0,565.8 C237.0,565.2 238.0,564.7 239.0,564.2 C240.0,563.6 241.0,563.1 242.0,562.5 C243.0,561.9 244.0,561.3 245.0,560.7 C246.0,560.1 247.0,559.5 248.0,558.8 C249.0,558.2 250.0,557.5 251.0,556.9 C252.0,556.2 253.0,555.5 254.0,554.8 C255.0,554.1 256.0,553.4 257.0,552.6 C258.0,551.9 259.0,551.2 260.0,550.4 C261.0,549.6 262.0,548.9 263.0,548.1 C264.0,547.3 265.0,546.5 266.0,545.7 C267.0,544.9 268.0,544.1 269.0,543.2 C270.0,542.4 271.0,541.5 272.0,540.7 C273.0,539.8 274.0,539.0 275.0,538.1 C276.0,537.2 277.0,536.3 278.0,535.4 C279.0,534.5 280.0,533.6 281.0,532.7 C282.0,531.8 283.0,530.8 284.0,529.9 C285.0,529.0 286.0,528.0 287.0,527.1 C288.0,526.1 289.0,525.2 290.0,524.2 C291.0,523.2 292.0,522.2 293.0,521.3 C294.0,520.3 295.0,519.3 296.0,518.3 C297.0,517.3 298.0,516.3 299.0,515.3 C300.0,514.3 301.0,513.3 302.0,512.2 C303.0,511.2 304.0,510.2 305.0,509.2 C306.0,508.1 307.0,507.1 308.0,506.1 C309.0,505.0 310.0,504.0 311.0,503.0 C312.0,501.9 313.0,500.9 314.0,499.8 C315.0,498.8 316.0,497.7 317.0,496.7 C318.0,495.6 319.0,494.5 320.0,493.5 C321.0,492.4 322.0,491.4 323.0,490.3 C324.0,489.2 325.0,488.2 326.0,487.1 C327.0,486.1 328.0,485.0 329.0,483.9 C330.0,482.9 331.0,481.8 332.0,480.8 C333.0,479.7 334.0,478.6 335.0,477.6 C336.0,476.5 337.0,475.5 338.0,474.4 C339.0,473.3 340.0,472.3 341.0,471.2 C342.0,470.2 343.0,469.1 344.0,468.1 C345.0,467.1 346.0,466.0 347.0,465.0 C348.0,463.9 349.0,462.9 350.0,461.9 C351.0,460.9 352.0,459.8 353.0,458.8 C354.0,457.8 355.0,456.8 356.0,455.8 C357.0,454.8 358.0,453.8 359.0,452.8 C360.0,451.8 361.0,450.8 362.0,449.8 C363.0,448.8 364.0,447.8 365.0,446.9 C366.0,445.9 367.0,444.9 368.0,444.0 C369.0,443.0 370.0,442.1 371.0,441.1 C372.0,440.2 373.0,439.3 374.0,438.4 C375.0,437.4 376.0,436.5 377.0,435.6 C378.0,434.7 379.0,433.8 380.0,433.0 C381.0,432.1 382.0,431.2 383.0,430.4 C384.0,429.5 385.0,428.7 386.0,427.8 C387.0,427.0 388.0,426.1 389.0,425.3 C390.0,424.5 391.0,423.7 392.0,422.9 C393.0,422.1 394.0,421.3 395.0,420.5 C396.0,419.7 397.0,419.0 398.0,418.2 C399.0,417.4 400.0,416.7 401.0,415.9 C402.0,415.2 403.0,414.4 404.0,413.7 C405.0,412.9 406.0,412.2 407.0,411.5 C408.0,410.7 409.0,410.0 410.0,409.3 C411.0,408.6 412.0,407.9 413.0,407.2 C414.0,406.5 415.0,405.8 416.0,405.1 C417.0,404.4 418.0,403.7 419.0,403.0 C420.0,402.3 421.0,401.6 422.0,400.9 C423.0,400.3 424.0,399.6 425.0,398.9 C426.0,398.2 427.0,397.6 428.0,396.9 C429.0,396.2 430.0,395.5 431.0,394.9 C432.0,394.2 433.0,393.5 434.0,392.9 C435.0,392.2 436.0,391.6 437.0,390.9 C438.0,390.2 439.0,389.6 440.0,388.9 C441.0,388.2 442.0,387.6 443.0,386.9 C444.0,386.2 445.0,385.6 446.0,384.9 C447.0,384.3 448.0,383.6 449.0,382.9 C450.0,382.3 451.0,381.6 452.0,380.9 C453.0,380.2 454.0,379.6 455.0,378.9 C456.0,378.2 457.0,377.5 458.0,376.9 C459.0,376.2 460.0,375.5 461.0,374.8 C462.0,374.1 463.0,373.5 464.0,372.8 C465.0,372.1 466.0,371.4 467.0,370.7 C468.0,370.0 469.0,369.3 470.0,368.6 C471.0,367.9 472.0,367.2 473.0,366.5 C474.0,365.8 475.0,365.1 476.0,364.4 C477.0,363.7 478.0,362.9 479.0,362.2 C480.0,361.5 481.0,360.8 482.0,360.0 C483.0,359.3 484.0,358.6 485.0,357.8 C486.0,357.1 487.0,356.3 488.0,355.6 C489.0,354.8 490.0,354.1 491.0,353.3 C492.0,352.6 493.0,351.8 494.0,351.0 C495.0,350.2 496.0,349.5 497.0,348.7 C498.0,347.9 499.0,347.1 500.0,346.3 C501.0,345.5 502.0,344.7 503.0,343.9 C504.0,343.1 505.0,342.3 506.0,341.5 C507.0,340.6 508.0,339.8 509.0,339.0 C510.0,338.1 511.0,337.3 512.0,336.4 C513.0,335.6 514.0,334.7 515.0,333.9 C516.0,333.0 517.0,332.1 518.0,331.2 C519.0,330.3 520.0,329.5 521.0,328.6 C522.0,327.7 523.0,326.8 524.0,325.8 C525.0,324.9 526.0,324.0 527.0,323.1 C528.0,322.1 529.0,321.2 530.0,320.2 C531.0,319.3 532.0,318.3 533.0,317.4 C534.0,316.4 535.0,315.4 536.0,314.5 C537.0,313.5 538.0,312.5 539.0,311.5 C540.0,310.5 541.0,309.5 542.0,308.5 C543.0,307.5 544.0,306.5 545.0,305.5 C546.0,304.5 547.0,303.5 548.0,302.4 C549.0,301.4 550.0,300.4 551.0,299.4 C552.0,298.3 553.0,297.3 554.0,296.3 C555.0,295.2 556.0,294.2 557.0,293.1 C558.0,292.1 559.0,291.0 560.0,290.0 C561.0,288.9 562.0,287.9 563.0,286.8 C564.0,285.8 565.0,284.7 566.0,283.6 C567.0,282.6 568.0,281.5 569.0,280.5 C570.0,279.4 571.0,278.3 572.0,277.3 C573.0,276.2 574.0,275.1 575.0,274.1 C576.0,273.0 577.0,271.9 578.0,270.9 C579.0,269.8 580.0,268.7 581.0,267.7 C582.0,266.6 583.0,265.5 584.0,264.5 C585.0,263.4 586.0,262.4 587.0,261.3 C588.0,260.2 589.0,259.2 590.0,258.1 C591.0,257.1 592.0,256.0 593.0,255.0 C594.0,253.9 595.0,252.9 596.0,251.8 C597.0,250.8 598.0,249.7 599.0,248.7 C600.0,247.7 601.0,246.6 602.0,245.6 C603.0,244.6 604.0,243.5 605.0,242.5 C606.0,241.5 607.0,240.5 608.0,239.5 C609.0,238.5 610.0,237.5 611.0,236.5 C612.0,235.5 613.0,234.5 614.0,233.5 C615.0,232.5 616.0,231.5 617.0,230.5 C618.0,229.6 619.0,228.6 620.0,227.6 C621.0,226.7 622.0,225.7 623.0,224.8 C624.0,223.8 625.0,222.9 626.0,221.9 C627.0,221.0 628.0,220.1 629.0,219.2 C630.0,218.3 631.0,217.4 632.0,216.5 C633.0,215.6 634.0,214.7 635.0,213.8 C636.0,212.9 637.2,211.9 638.0,211.2 C638.8,210.5 639.7,209.8 640.0,209.5" fill="none" stroke="#1f77b4" stroke-width="3.2"/>
<path d="M176.0,578.3 C176.5,578.3 178.0,578.5 179.0,578.5 C180.0,578.6 181.0,578.7 182.0,578.7 C183.0,578.7 184.0,578.8 185.0,578.8 C186.0,578.8 187.0,578.7 188.0,578.7 C189.0,578.7 190.0,578.6 191.0,578.6 C192.0,578.5 193.0,578.5 194.0,578.4 C195.0,578.3 196.0,578.2 197.0,578.1 C198.0,577.9 199.0,577.8 200.0,577.7 C201.0,577.5 202.0,577.3 203.0,577.2 C204.0,577.0 205.0,576.8 206.0,576.6 C207.0,576.4 208.0,576.2 209.0,575.9 C210.0,575.7 211.0,575.5 212.0,575.2 C213.0,575.0 214.0,574.7 215.0,574.4 C216.0,574.1 217.0,573.8 218.0,573.5 C219.0,573.2 220.0,572.9 221.0,572.6 C222.0,572.2 223.0,571.9 224.0,571.5 C225.0,571.2 226.0,570.8 227.0,570.4 C228.0,570.1 229.0,569.7 230.0,569.3 C231.0,568.9 232.0,568.4 233.0,568.0 C234.0,567.6 235.0,567.2 236.0,566.7 C237.0,566.3 238.0,565.8 239.0,565.4 C240.0,564.9 241.0,564.4 242.0,563.9 C243.0,563.4 244.0,563.0 245.0,562.4 C246.0,561.9 247.0,561.4 248.0,560.9 C249.0,560.4 250.0,559.9 251.0,559.3 C252.0,558.8 253.0,558.2 254.0,557.7 C255.0,557.1 256.0,556.5 257.0,556.0 C258.0,555.4 259.0,554.8 260.0,554.2 C261.0,553.6 262.0,553.0 263.0,552.4 C264.0,551.8 265.0,551.2 266.0,550.6 C267.0,549.9 268.0,549.3 269.0,548.7 C270.0,548.1 271.0,547.4 272.0,546.8 C273.0,546.1 274.0,545.5 275.0,544.8 C276.0,544.2 277.0,543.5 278.0,542.8 C279.0,542.2 280.0,541.5 281.0,540.8 C282.0,540.1 283.0,539.4 284.0,538.8 C285.0,538.1 286.0,537.4 287.0,536.7 C288.0,536.0 289.0,535.3 290.0,534.6 C291.0,533.9 292.0,533.2 293.0,532.5 C294.0,531.8 295.0,531.1 296.0,530.3 C297.0,529.6 298.0,528.9 299.0,528.2 C300.0,527.5 301.0,526.7 302.0,526.0 C303.0,525.3 304.0,524.6 305.0,523.8 C306.0,523.1 307.0,522.4 308.0,521.7 C309.0,520.9 310.0,520.2 311.0,519.5 C312.0,518.7 313.0,518.0 314.0,517.3 C315.0,516.6 316.0,515.8 317.0,515.1 C318.0,514.4 319.0,513.6 320.0,512.9 C321.0,512.2 322.0,511.4 323.0,510.7 C324.0,510.0 325.0,509.3 326.0,508.5 C327.0,507.8 328.0,507.1 329.0,506.4 C330.0,505.6 331.0,504.9 332.0,504.2 C333.0,503.5 334.0,502.8 335.0,502.1 C336.0,501.3 337.0,500.6 338.0,499.9 C339.0,499.2 340.0,498.5 341.0,497.8 C342.0,497.1 343.0,496.4 344.0,495.7 C345.0,495.0 346.0,494.4 347.0,493.7 C348.0,493.0 349.0,492.3 350.0,491.6 C351.0,491.0 352.0,490.3 353.0,489.6 C354.0,489.0 355.0,488.3 356.0,487.7 C357.0,487.0 358.0,486.4 359.0,485.7 C360.0,485.1 361.0,484.4 362.0,483.8 C363.0,483.2 364.0,482.6 365.0,481.9 C366.0,481.3 367.0,480.7 368.0,480.1 C369.0,479.5 370.0,478.9 371.0,478.3 C372.0,477.7 373.0,477.1 374.0,476.6 C375.0,476.0 376.0,475.4 377.0,474.8 C378.0,474.3 379.0,473.7 380.0,473.1 C381.0,472.6 382.0,472.0 383.0,471.5 C384.0,470.9 385.0,470.4 386.0,469.8 C387.0,469.3 388.0,468.8 389.0,468.2 C390.0,467.7 391.0,467.2 392.0,466.7 C393.0,466.1 394.0,465.6 395.0,465.1 C396.0,464.6 397.0,464.1 398.0,463.6 C399.0,463.1 400.0,462.6 401.0,462.1 C402.0,461.6 403.0,461.1 404.0,460.6 C405.0,460.2 406.0,459.7 407.0,459.2 C408.0,458.7 409.0,458.3 410.0,457.8 C411.0,457.3 412.0,456.9 413.0,456.4 C414.0,455.9 415.0,455.5 416.0,455.0 C417.0,454.6 418.0,454.1 419.0,453.7 C420.0,453.2 421.0,452.8 422.0,452.3 C423.0,451.9 424.0,451.5 425.0,451.0 C426.0,450.6 427.0,450.2 428.0,449.7 C429.0,449.3 430.0,448.9 431.0,448.5 C432.0,448.0 433.0,447.6 434.0,447.2 C435.0,446.8 436.0,446.4 437.0,446.0 C438.0,445.5 439.0,445.1 440.0,444.7 C441.0,444.3 442.0,443.9 443.0,443.5 C444.0,443.1 445.0,442.7 446.0,442.3 C447.0,441.9 448.0,441.5 449.0,441.1 C450.0,440.7 451.0,440.3 452.0,439.9 C453.0,439.5 454.0,439.2 455.0,438.8 C456.0,438.4 457.0,438.0 458.0,437.6 C459.0,437.2 460.0,436.8 461.0,436.5 C462.0,436.1 463.0,435.7 464.0,435.3 C465.0,434.9 466.0,434.6 467.0,434.2 C468.0,433.8 469.0,433.4 470.0,433.0 C471.0,432.7 472.0,432.3 473.0,431.9 C474.0,431.5 475.0,431.2 476.0,430.8 C477.0,430.4 478.0,430.1 479.0,429.7 C480.0,429.3 481.0,428.9 482.0,428.6 C483.0,428.2 484.0,427.8 485.0,427.5 C486.0,427.1 487.0,426.7 488.0,426.3 C489.0,426.0 490.0,425.6 491.0,425.2 C492.0,424.9 493.0,424.5 494.0,424.1 C495.0,423.8 496.0,423.4 497.0,423.0 C498.0,422.6 499.0,422.3 500.0,421.9 C501.0,421.5 502.0,421.2 503.0,420.8 C504.0,420.4 505.0,420.1 506.0,419.7 C507.0,419.3 508.0,418.9 509.0,418.6 C510.0,418.2 511.0,417.8 512.0,417.5 C513.0,417.1 514.0,416.7 515.0,416.3 C516.0,416.0 517.0,415.6 518.0,415.2 C519.0,414.8 520.0,414.5 521.0,414.1 C522.0,413.7 523.0,413.3 524.0,413.0 C525.0,412.6 526.0,412.2 527.0,411.8 C528.0,411.4 529.0,411.1 530.0,410.7 C531.0,410.3 532.0,409.9 533.0,409.5 C534.0,409.1 535.0,408.7 536.0,408.4 C537.0,408.0 538.0,407.6 539.0,407.2 C540.0,406.8 541.0,406.4 542.0,406.0 C543.0,405.6 544.0,405.2 545.0,404.8 C546.0,404.4 547.0,404.0 548.0,403.6 C549.0,403.2 550.0,402.8 551.0,402.4 C552.0,402.0 553.0,401.6 554.0,401.2 C555.0,400.8 556.0,400.4 557.0,400.0 C558.0,399.6 559.0,399.2 560.0,398.7 C561.0,398.3 562.0,397.9 563.0,397.5 C564.0,397.1 565.0,396.6 566.0,396.2 C567.0,395.8 568.0,395.4 569.0,394.9 C570.0,394.5 571.0,394.1 572.0,393.6 C573.0,393.2 574.0,392.8 575.0,392.3 C576.0,391.9 577.0,391.4 578.0,391.0 C579.0,390.5 580.0,390.1 581.0,389.7 C582.0,389.2 583.0,388.7 584.0,388.3 C585.0,387.8 586.0,387.4 587.0,386.9 C588.0,386.4 589.0,386.0 590.0,385.5 C591.0,385.0 592.0,384.6 593.0,384.1 C594.0,383.6 595.0,383.1 596.0,382.7 C597.0,382.2 598.0,381.7 599.0,381.2 C600.0,380.7 601.0,380.2 602.0,379.7 C603.0,379.2 604.0,378.7 605.0,378.2 C606.0,377.7 607.0,377.2 608.0,376.7 C609.0,376.2 610.0,375.7 611.0,375.2 C612.0,374.6 613.0,374.1 614.0,373.6 C615.0,373.1 616.0,372.5 617.0,372.0 C618.0,371.5 619.0,370.9 620.0,370.4 C621.0,369.9 622.0,369.3 623.0,368.8 C624.0,368.2 625.0,367.7 626.0,367.1 C627.0,366.5 628.0,366.0 629.0,365.4 C630.0,364.8 631.0,364.3 632.0,363.7 C633.0,363.1 634.0,362.5 635.0,361.9 C636.0,361.4 637.2,360.7 638.0,360.2 C638.8,359.7 639.7,359.2 640.0,359.0" fill="none" stroke="#1f77b4" stroke-width="3.2"/>
<path d="M176.0,578.3 C176.5,578.3 178.0,578.4 179.0,578.4 C180.0,578.4 181.0,578.4 182.0,578.4 C183.0,578.4 184.0,578.4 185.0,578.3 C186.0,578.3 187.0,578.3 188.0,578.2 C189.0,578.1 190.0,578.1 191.0,578.0 C192.0,577.9 193.0,577.8 194.0,577.7 C195.0,577.6 196.0,577.5 197.0,577.4 C198.0,577.3 199.0,577.2 200.0,577.0 C201.0,576.9 202.0,576.7 203.0,576.6 C204.0,576.4 205.0,576.2 206.0,576.1 C207.0,575.9 208.0,575.7 209.0,575.5 C210.0,575.3 211.0,575.1 212.0,574.9 C213.0,574.6 214.0,574.4 215.0,574.2 C216.0,573.9 217.0,573.7 218.0,573.5 C219.0,573.2 220.0,572.9 221.0,572.7 C222.0,572.4 223.0,572.1 224.0,571.8 C225.0,571.6 226.0,571.3 227.0,571.0 C228.0,570.7 229.0,570.4 230.0,570.1 C231.0,569.7 232.0,569.4 233.0,569.1 C234.0,568.8 235.0,568.4 236.0,568.1 C237.0,567.8 238.0,567.4 239.0,567.1 C240.0,566.7 241.0,566.3 242.0,566.0 C243.0,565.6 244.0,565.2 245.0,564.9 C246.0,564.5 247.0,564.1 248.0,563.7 C249.0,563.3 250.0,562.9 251.0,562.5 C252.0,562.1 253.0,561.7 254.0,561.3 C255.0,560.9 256.0,560.5 257.0,560.1 C258.0,559.7 259.0,559.3 260.0,558.8 C261.0,558.4 262.0,558.0 263.0,557.5 C264.0,557.1 265.0,556.7 266.0,556.2 C267.0,555.8 268.0,555.3 269.0,554.9 C270.0,554.4 271.0,553.9 272.0,553.5 C273.0,553.0 274.0,552.5 275.0,552.1 C276.0,551.6 277.0,551.1 278.0,550.6 C279.0,550.1 280.0,549.6 281.0,549.1 C282.0,548.6 283.0,548.1 284.0,547.6 C285.0,547.1 286.0,546.5 287.0,546.0 C288.0,545.5 289.0,545.0 290.0,544.4 C291.0,543.9 292.0,543.3 293.0,542.8 C294.0,542.2 295.0,541.6 296.0,541.1 C297.0,540.5 298.0,539.9 299.0,539.3 C300.0,538.8 301.0,538.2 302.0,537.6 C303.0,537.0 304.0,536.4 305.0,535.7 C306.0,535.1 307.0,534.5 308.0,533.9 C309.0,533.2 310.0,532.6 311.0,532.0 C312.0,531.3 313.0,530.7 314.0,530.0 C315.0,529.3 316.0,528.7 317.0,528.0 C318.0,527.3 319.0,526.6 320.0,525.9 C321.0,525.2 322.0,524.5 323.0,523.8 C324.0,523.1 325.0,522.3 326.0,521.6 C327.0,520.9 328.0,520.1 329.0,519.4 C330.0,518.6 331.0,517.8 332.0,517.1 C333.0,516.3 334.0,515.5 335.0,514.7 C336.0,513.9 337.0,513.1 338.0,512.3 C339.0,511.4 340.0,510.6 341.0,509.8 C342.0,508.9 343.0,508.0 344.0,507.2 C345.0,506.3 346.0,505.4 347.0,504.5 C348.0,503.6 349.0,502.7 350.0,501.8 C351.0,500.8 352.0,499.9 353.0,498.9 C354.0,498.0 355.0,497.0 356.0,496.0 C357.0,495.0 358.0,494.0 359.0,493.0 C360.0,492.0 361.0,490.9 362.0,489.9 C363.0,488.8 364.0,487.8 365.0,486.7 C366.0,485.6 367.0,484.5 368.0,483.4 C369.0,482.3 370.0,481.1 371.0,480.0 C372.0,478.8 373.0,477.7 374.0,476.5 C375.0,475.3 376.0,474.1 377.0,472.9 C378.0,471.6 379.0,470.4 380.0,469.1 C381.0,467.9 382.0,466.6 383.0,465.3 C384.0,464.1 385.0,462.8 386.0,461.4 C387.0,460.1 388.0,458.8 389.0,457.5 C390.0,456.1 391.0,454.8 392.0,453.4 C393.0,452.0 394.0,450.7 395.0,449.3 C396.0,447.9 397.0,446.5 398.0,445.1 C399.0,443.6 400.0,442.2 401.0,440.8 C402.0,439.3 403.0,437.9 404.0,436.4 C405.0,435.0 406.0,433.5 407.0,432.0 C408.0,430.5 409.0,429.0 410.0,427.5 C411.0,426.0 412.0,424.5 413.0,423.0 C414.0,421.5 415.0,420.0 416.0,418.5 C417.0,416.9 418.0,415.4 419.0,413.8 C420.0,412.3 421.0,410.7 422.0,409.2 C423.0,407.6 424.0,406.0 425.0,404.5 C426.0,402.9 427.0,401.3 428.0,399.7 C429.0,398.2 430.0,396.6 431.0,395.0 C432.0,393.4 433.0,391.8 434.0,390.2 C435.0,388.6 436.0,387.0 437.0,385.4 C438.0,383.8 439.0,382.1 440.0,380.5 C441.0,378.9 442.0,377.3 443.0,375.7 C444.0,374.1 445.0,372.4 446.0,370.8 C447.0,369.2 448.0,367.6 449.0,365.9 C450.0,364.3 451.0,362.7 452.0,361.1 C453.0,359.4 454.0,357.8 455.0,356.2 C456.0,354.6 457.0,352.9 458.0,351.3 C459.0,349.7 460.0,348.0 461.0,346.4 C462.0,344.8 463.0,343.2 464.0,341.5 C465.0,339.9 466.0,338.3 467.0,336.7 C468.0,335.0 469.0,333.4 470.0,331.8 C471.0,330.2 472.0,328.6 473.0,326.9 C474.0,325.3 475.0,323.7 476.0,322.1 C477.0,320.5 478.0,318.9 479.0,317.3 C480.0,315.7 481.0,314.1 482.0,312.5 C483.0,310.9 484.0,309.3 485.0,307.7 C486.0,306.1 487.0,304.6 488.0,303.0 C489.0,301.4 490.0,299.8 491.0,298.3 C492.0,296.7 493.0,295.1 494.0,293.6 C495.0,292.0 496.0,290.5 497.0,288.9 C498.0,287.4 499.0,285.8 500.0,284.3 C501.0,282.8 502.0,281.2 503.0,279.7 C504.0,278.2 505.0,276.7 506.0,275.2 C507.0,273.7 508.0,272.2 509.0,270.7 C510.0,269.2 511.0,267.7 512.0,266.2 C513.0,264.7 514.0,263.3 515.0,261.8 C516.0,260.4 517.0,258.9 518.0,257.5 C519.0,256.0 520.0,254.6 521.0,253.2 C522.0,251.8 523.0,250.3 524.0,248.9 C525.0,247.5 526.0,246.1 527.0,244.8 C528.0,243.4 529.0,242.0 530.0,240.6 C531.0,239.3 532.0,237.9 533.0,236.6 C534.0,235.3 535.0,233.9 536.0,232.6 C537.0,231.3 538.0,230.0 539.0,228.7 C540.0,227.4 541.0,226.1 542.0,224.9 C543.0,223.6 544.0,222.3 545.0,221.1 C546.0,219.8 547.0,218.6 548.0,217.4 C549.0,216.2 550.0,215.0 551.0,213.7 C552.0,212.5 553.0,211.4 554.0,210.2 C555.0,209.0 556.0,207.8 557.0,206.7 C558.0,205.5 559.0,204.3 560.0,203.2 C561.0,202.0 562.0,200.9 563.0,199.8 C564.0,198.6 565.0,197.5 566.0,196.4 C567.0,195.3 568.0,194.2 569.0,193.1 C570.0,192.0 571.0,190.9 572.0,189.8 C573.0,188.7 574.0,187.6 575.0,186.5 C576.0,185.5 577.0,184.4 578.0,183.3 C579.0,182.2 580.0,181.2 581.0,180.1 C582.0,179.1 583.0,178.0 584.0,177.0 C585.0,175.9 586.0,174.9 587.0,173.8 C588.0,172.8 589.0,171.7 590.0,170.7 C591.0,169.6 592.0,168.6 593.0,167.6 C594.0,166.5 595.0,165.5 596.0,164.5 C597.0,163.4 598.0,162.4 599.0,161.4 C600.0,160.3 601.0,159.3 602.0,158.3 C603.0,157.3 604.0,156.2 605.0,155.2 C606.0,154.2 607.0,153.1 608.0,152.1 C609.0,151.1 610.0,150.0 611.0,149.0 C612.0,148.0 613.0,146.9 614.0,145.9 C615.0,144.9 616.0,143.8 617.0,142.8 C618.0,141.7 619.0,140.7 620.0,139.6 C621.0,138.6 622.0,137.5 623.0,136.5 C624.0,135.4 625.0,134.4 626.0,133.3 C627.0,132.2 628.0,131.2 629.0,130.1 C630.0,129.0 631.0,127.9 632.0,126.8 C633.0,125.7 634.0,124.6 635.0,123.6 C636.0,122.5 637.2,121.2 638.0,120.2 C638.8,119.3 639.7,118.4 640.0,118.0 L640.0,228.5 C639.7,228.7 638.8,229.0 638.0,229.3 C637.2,229.6 636.0,230.1 635.0,230.5 C634.0,230.9 633.0,231.3 632.0,231.7 C631.0,232.2 630.0,232.6 629.0,233.1 C628.0,233.5 627.0,234.0 626.0,234.5 C625.0,235.0 624.0,235.5 623.0,236.0 C622.0,236.5 621.0,237.0 620.0,237.5 C619.0,238.0 618.0,238.6 617.0,239.1 C616.0,239.7 615.0,240.3 614.0,240.8 C613.0,241.4 612.0,242.0 611.0,242.6 C610.0,243.2 609.0,243.8 608.0,244.4 C607.0,245.1 606.0,245.7 605.0,246.3 C604.0,247.0 603.0,247.7 602.0,248.3 C601.0,249.0 600.0,249.7 599.0,250.4 C598.0,251.1 597.0,251.8 596.0,252.5 C595.0,253.2 594.0,253.9 593.0,254.6 C592.0,255.4 591.0,256.1 590.0,256.9 C589.0,257.6 588.0,258.4 587.0,259.2 C586.0,260.0 585.0,260.7 584.0,261.5 C583.0,262.3 582.0,263.2 581.0,264.0 C580.0,264.8 579.0,265.6 578.0,266.5 C577.0,267.3 576.0,268.2 575.0,269.0 C574.0,269.9 573.0,270.8 572.0,271.6 C571.0,272.5 570.0,273.4 569.0,274.3 C568.0,275.2 567.0,276.1 566.0,277.1 C565.0,278.0 564.0,278.9 563.0,279.9 C562.0,280.8 561.0,281.7 560.0,282.7 C559.0,283.7 558.0,284.6 557.0,285.6 C556.0,286.6 555.0,287.6 554.0,288.6 C553.0,289.6 552.0,290.6 551.0,291.6 C550.0,292.6 549.0,293.7 548.0,294.7 C547.0,295.7 546.0,296.8 545.0,297.8 C544.0,298.9 543.0,300.0 542.0,301.0 C541.0,302.1 540.0,303.2 539.0,304.3 C538.0,305.4 537.0,306.5 536.0,307.6 C535.0,308.7 534.0,309.8 533.0,310.9 C532.0,312.0 531.0,313.2 530.0,314.3 C529.0,315.4 528.0,316.6 527.0,317.7 C526.0,318.9 525.0,320.0 524.0,321.2 C523.0,322.4 522.0,323.5 521.0,324.7 C520.0,325.9 519.0,327.1 518.0,328.2 C517.0,329.4 516.0,330.6 515.0,331.8 C514.0,333.0 513.0,334.2 512.0,335.4 C511.0,336.6 510.0,337.8 509.0,339.0 C508.0,340.3 507.0,341.5 506.0,342.7 C505.0,343.9 504.0,345.2 503.0,346.4 C502.0,347.6 501.0,348.8 500.0,350.1 C499.0,351.3 498.0,352.6 497.0,353.8 C496.0,355.0 495.0,356.3 494.0,357.5 C493.0,358.8 492.0,360.0 491.0,361.3 C490.0,362.5 489.0,363.8 488.0,365.0 C487.0,366.3 486.0,367.5 485.0,368.8 C484.0,370.0 483.0,371.3 482.0,372.6 C481.0,373.8 480.0,375.1 479.0,376.3 C478.0,377.6 477.0,378.8 476.0,380.1 C475.0,381.4 474.0,382.6 473.0,383.9 C472.0,385.1 471.0,386.4 470.0,387.6 C469.0,388.9 468.0,390.1 467.0,391.4 C466.0,392.7 465.0,393.9 464.0,395.2 C463.0,396.4 462.0,397.7 461.0,398.9 C460.0,400.2 459.0,401.4 458.0,402.7 C457.0,403.9 456.0,405.1 455.0,406.4 C454.0,407.6 453.0,408.9 452.0,410.1 C451.0,411.3 450.0,412.6 449.0,413.8 C448.0,415.0 447.0,416.3 446.0,417.5 C445.0,418.7 444.0,420.0 443.0,421.2 C442.0,422.4 441.0,423.6 440.0,424.8 C439.0,426.1 438.0,427.3 437.0,428.5 C436.0,429.7 435.0,430.9 434.0,432.1 C433.0,433.3 432.0,434.5 431.0,435.7 C430.0,436.9 429.0,438.1 428.0,439.3 C427.0,440.5 426.0,441.7 425.0,442.8 C424.0,444.0 423.0,445.2 422.0,446.4 C421.0,447.5 420.0,448.7 419.0,449.9 C418.0,451.0 417.0,452.2 416.0,453.3 C415.0,454.5 414.0,455.6 413.0,456.8 C412.0,457.9 411.0,459.0 410.0,460.2 C409.0,461.3 408.0,462.4 407.0,463.5 C406.0,464.7 405.0,465.8 404.0,466.9 C403.0,468.0 402.0,469.1 401.0,470.2 C400.0,471.3 399.0,472.4 398.0,473.4 C397.0,474.5 396.0,475.6 395.0,476.7 C394.0,477.7 393.0,478.8 392.0,479.8 C391.0,480.9 390.0,481.9 389.0,483.0 C388.0,484.0 387.0,485.1 386.0,486.1 C385.0,487.1 384.0,488.1 383.0,489.1 C382.0,490.1 381.0,491.2 380.0,492.2 C379.0,493.1 378.0,494.1 377.0,495.1 C376.0,496.1 375.0,497.1 374.0,498.1 C373.0,499.0 372.0,500.0 371.0,500.9 C370.0,501.9 369.0,502.8 368.0,503.8 C367.0,504.7 366.0,505.6 365.0,506.6 C364.0,507.5 363.0,508.4 362.0,509.3 C361.0,510.2 360.0,511.1 359.0,512.0 C358.0,512.9 357.0,513.8 356.0,514.7 C355.0,515.5 354.0,516.4 353.0,517.3 C352.0,518.1 351.0,519.0 350.0,519.8 C349.0,520.6 348.0,521.5 347.0,522.3 C346.0,523.1 345.0,523.9 344.0,524.8 C343.0,525.6 342.0,526.4 341.0,527.1 C340.0,527.9 339.0,528.7 338.0,529.5 C337.0,530.3 336.0,531.0 335.0,531.8 C334.0,532.5 333.0,533.3 332.0,534.0 C331.0,534.7 330.0,535.5 329.0,536.2 C328.0,536.9 327.0,537.6 326.0,538.3 C325.0,539.0 324.0,539.7 323.0,540.4 C322.0,541.0 321.0,541.7 320.0,542.4 C319.0,543.0 318.0,543.7 317.0,544.3 C316.0,544.9 315.0,545.6 314.0,546.2 C313.0,546.8 312.0,547.4 311.0,548.0 C310.0,548.6 309.0,549.2 308.0,549.7 C307.0,550.3 306.0,550.9 305.0,551.4 C304.0,552.0 303.0,552.5 302.0,553.1 C301.0,553.6 300.0,554.1 299.0,554.6 C298.0,555.1 297.0,555.6 296.0,556.1 C295.0,556.6 294.0,557.1 293.0,557.5 C292.0,558.0 291.0,558.5 290.0,558.9 C289.0,559.4 288.0,559.8 287.0,560.2 C286.0,560.6 285.0,561.1 284.0,561.5 C283.0,561.9 282.0,562.3 281.0,562.7 C280.0,563.0 279.0,563.4 278.0,563.8 C277.0,564.2 276.0,564.5 275.0,564.9 C274.0,565.2 273.0,565.6 272.0,565.9 C271.0,566.2 270.0,566.5 269.0,566.9 C268.0,567.2 267.0,567.5 266.0,567.8 C265.0,568.1 264.0,568.4 263.0,568.6 C262.0,568.9 261.0,569.2 260.0,569.5 C259.0,569.7 258.0,570.0 257.0,570.2 C256.0,570.5 255.0,570.7 254.0,571.0 C253.0,571.2 252.0,571.4 251.0,571.7 C250.0,571.9 249.0,572.1 248.0,572.3 C247.0,572.5 246.0,572.7 245.0,572.9 C244.0,573.1 243.0,573.3 242.0,573.5 C241.0,573.6 240.0,573.8 239.0,574.0 C238.0,574.1 237.0,574.3 236.0,574.5 C235.0,574.6 234.0,574.8 233.0,574.9 C232.0,575.0 231.0,575.2 230.0,575.3 C229.0,575.5 228.0,575.6 227.0,575.7 C226.0,575.8 225.0,575.9 224.0,576.0 C223.0,576.2 222.0,576.3 221.0,576.4 C220.0,576.5 219.0,576.6 218.0,576.7 C217.0,576.8 216.0,576.8 215.0,576.9 C214.0,577.0 213.0,577.1 212.0,577.2 C211.0,577.2 210.0,577.3 209.0,577.4 C208.0,577.4 207.0,577.5 206.0,577.6 C205.0,577.6 204.0,577.7 203.0,577.7 C202.0,577.8 201.0,577.8 200.0,577.9 C199.0,577.9 198.0,578.0 197.0,578.0 C196.0,578.0 195.0,578.1 194.0,578.1 C193.0,578.1 192.0,578.2 191.0,578.2 C190.0,578.2 189.0,578.3 188.0,578.3 C187.0,578.3 186.0,578.3 185.0,578.4 C184.0,578.4 183.0,578.4 182.0,578.4 C181.0,578.4 180.0,578.4 179.0,578.5 C178.0,578.5 176.5,578.5 176.0,578.5 Z" fill="#2ca02c" fill-opacity="0.30"/>
<path d="M176.0,578.3 C176.5,578.3 178.0,578.4 179.0,578.4 C180.0,578.4 181.0,578.4 182.0,578.4 C183.0,578.4 184.0,578.4 185.0,578.3 C186.0,578.3 187.0,578.3 188.0,578.2 C189.0,578.1 190.0,578.1 191.0,578.0 C192.0,577.9 193.0,577.8 194.0,577.7 C195.0,577.6 196.0,577.5 197.0,577.4 C198.0,577.3 199.0,577.2 200.0,577.0 C201.0,576.9 202.0,576.7 203.0,576.6 C204.0,576.4 205.0,576.2 206.0,576.1 C207.0,575.9 208.0,575.7 209.0,575.5 C210.0,575.3 211.0,575.1 212.0,574.9 C213.0,574.6 214.0,574.4 215.0,574.2 C216.0,573.9 217.0,573.7 218.0,573.5 C219.0,573.2 220.0,572.9 221.0,572.7 C222.0,572.4 223.0,572.1 224.0,571.8 C225.0,571.6 226.0,571.3 227.0,571.0 C228.0,570.7 229.0,570.4 230.0,570.1 C231.0,569.7 232.0,569.4 233.0,569.1 C234.0,568.8 235.0,568.4 236.0,568.1 C237.0,567.8 238.0,567.4 239.0,567.1 C240.0,566.7 241.0,566.3 242.0,566.0 C243.0,565.6 244.0,565.2 245.0,564.9 C246.0,564.5 247.0,564.1 248.0,563.7 C249.0,563.3 250.0,562.9 251.0,562.5 C252.0,562.1 253.0,561.7 254.0,561.3 C255.0,560.9 256.0,560.5 257.0,560.1 C258.0,559.7 259.0,559.3 260.0,558.8 C261.0,558.4 262.0,558.0 263.0,557.5 C264.0,557.1 265.0,556.7 266.0,556.2 C267.0,555.8 268.0,555.3 269.0,554.9 C270.0,554.4 271.0,553.9 272.0,553.5 C273.0,553.0 274.0,552.5 275.0,552.1 C276.0,551.6 277.0,551.1 278.0,550.6 C279.0,550.1 280.0,549.6 281.0,549.1 C282.0,548.6 283.0,548.1 284.0,547.6 C285.0,547.1 286.0,546.5 287.0,546.0 C288.0,545.5 289.0,545.0 290.0,544.4 C291.0,543.9 292.0,543.3 293.0,542.8 C294.0,542.2 295.0,541.6 296.0,541.1 C297.0,540.5 298.0,539.9 299.0,539.3 C300.0,538.8 301.0,538.2 302.0,537.6 C303.0,537.0 304.0,536.4 305.0,535.7 C306.0,535.1 307.0,534.5 308.0,533.9 C309.0,533.2 310.0,532.6 311.0,532.0 C312.0,531.3 313.0,530.7 314.0,530.0 C315.0,529.3 316.0,528.7 317.0,528.0 C318.0,527.3 319.0,526.6 320.0,525.9 C321.0,525.2 322.0,524.5 323.0,523.8 C324.0,523.1 325.0,522.3 326.0,521.6 C327.0,520.9 328.0,520.1 329.0,519.4 C330.0,518.6 331.0,517.8 332.0,517.1 C333.0,516.3 334.0,515.5 335.0,514.7 C336.0,513.9 337.0,513.1 338.0,512.3 C339.0,511.4 340.0,510.6 341.0,509.8 C342.0,508.9 343.0,508.0 344.0,507.2 C345.0,506.3 346.0,505.4 347.0,504.5 C348.0,503.6 349.0,502.7 350.0,501.8 C351.0,500.8 352.0,499.9 353.0,498.9 C354.0,498.0 355.0,497.0 356.0,496.0 C357.0,495.0 358.0,494.0 359.0,493.0 C360.0,492.0 361.0,490.9 362.0,489.9 C363.0,488.8 364.0,487.8 365.0,486.7 C366.0,485.6 367.0,484.5 368.0,483.4 C369.0,482.3 370.0,481.1 371.0,480.0 C372.0,478.8 373.0,477.7 374.0,476.5 C375.0,475.3 376.0,474.1 377.0,472.9 C378.0,471.6 379.0,470.4 380.0,469.1 C381.0,467.9 382.0,466.6 383.0,465.3 C384.0,464.1 385.0,462.8 386.0,461.4 C387.0,460.1 388.0,458.8 389.0,457.5 C390.0,456.1 391.0,454.8 392.0,453.4 C393.0,452.0 394.0,450.7 395.0,449.3 C396.0,447.9 397.0,446.5 398.0,445.1 C399.0,443.6 400.0,442.2 401.0,440.8 C402.0,439.3 403.0,437.9 404.0,436.4 C405.0,435.0 406.0,433.5 407.0,432.0 C408.0,430.5 409.0,429.0 410.0,427.5 C411.0,426.0 412.0,424.5 413.0,423.0 C414.0,421.5 415.0,420.0 416.0,418.5 C417.0,416.9 418.0,415.4 419.0,413.8 C420.0,412.3 421.0,410.7 422.0,409.2 C423.0,407.6 424.0,406.0 425.0,404.5 C426.0,402.9 427.0,401.3 428.0,399.7 C429.0,398.2 430.0,396.6 431.0,395.0 C432.0,393.4 433.0,391.8 434.0,390.2 C435.0,388.6 436.0,387.0 437.0,385.4 C438.0,383.8 439.0,382.1 440.0,380.5 C441.0,378.9 442.0,377.3 443.0,375.7 C444.0,374.1 445.0,372.4 446.0,370.8 C447.0,369.2 448.0,367.6 449.0,365.9 C450.0,364.3 451.0,362.7 452.0,361.1 C453.0,359.4 454.0,357.8 455.0,356.2 C456.0,354.6 457.0,352.9 458.0,351.3 C459.0,349.7 460.0,348.0 461.0,346.4 C462.0,344.8 463.0,343.2 464.0,341.5 C465.0,339.9 466.0,338.3 467.0,336.7 C468.0,335.0 469.0,333.4 470.0,331.8 C471.0,330.2 472.0,328.6 473.0,326.9 C474.0,325.3 475.0,323.7 476.0,322.1 C477.0,320.5 478.0,318.9 479.0,317.3 C480.0,315.7 481.0,314.1 482.0,312.5 C483.0,310.9 484.0,309.3 485.0,307.7 C486.0,306.1 487.0,304.6 488.0,303.0 C489.0,301.4 490.0,299.8 491.0,298.3 C492.0,296.7 493.0,295.1 494.0,293.6 C495.0,292.0 496.0,290.5 497.0,288.9 C498.0,287.4 499.0,285.8 500.0,284.3 C501.0,282.8 502.0,281.2 503.0,279.7 C504.0,278.2 505.0,276.7 506.0,275.2 C507.0,273.7 508.0,272.2 509.0,270.7 C510.0,269.2 511.0,267.7 512.0,266.2 C513.0,264.7 514.0,263.3 515.0,261.8 C516.0,260.4 517.0,258.9 518.0,257.5 C519.0,256.0 520.0,254.6 521.0,253.2 C522.0,251.8 523.0,250.3 524.0,248.9 C525.0,247.5 526.0,246.1 527.0,244.8 C528.0,243.4 529.0,242.0 530.0,240.6 C531.0,239.3 532.0,237.9 533.0,236.6 C534.0,235.3 535.0,233.9 536.0,232.6 C537.0,231.3 538.0,230.0 539.0,228.7 C540.0,227.4 541.0,226.1 542.0,224.9 C543.0,223.6 544.0,222.3 545.0,221.1 C546.0,219.8 547.0,218.6 548.0,217.4 C549.0,216.2 550.0,215.0 551.0,213.7 C552.0,212.5 553.0,211.4 554.0,210.2 C555.0,209.0 556.0,207.8 557.0,206.7 C558.0,205.5 559.0,204.3 560.0,203.2 C561.0,202.0 562.0,200.9 563.0,199.8 C564.0,198.6 565.0,197.5 566.0,196.4 C567.0,195.3 568.0,194.2 569.0,193.1 C570.0,192.0 571.0,190.9 572.0,189.8 C573.0,188.7 574.0,187.6 575.0,186.5 C576.0,185.5 577.0,184.4 578.0,183.3 C579.0,182.2 580.0,181.2 581.0,180.1 C582.0,179.1 583.0,178.0 584.0,177.0 C585.0,175.9 586.0,174.9 587.0,173.8 C588.0,172.8 589.0,171.7 590.0,170.7 C591.0,169.6 592.0,168.6 593.0,167.6 C594.0,166.5 595.0,165.5 596.0,164.5 C597.0,163.4 598.0,162.4 599.0,161.4 C600.0,160.3 601.0,159.3 602.0,158.3 C603.0,157.3 604.0,156.2 605.0,155.2 C606.0,154.2 607.0,153.1 608.0,152.1 C609.0,151.1 610.0,150.0 611.0,149.0 C612.0,148.0 613.0,146.9 614.0,145.9 C615.0,144.9 616.0,143.8 617.0,142.8 C618.0,141.7 619.0,140.7 620.0,139.6 C621.0,138.6 622.0,137.5 623.0,136.5 C624.0,135.4 625.0,134.4 626.0,133.3 C627.0,132.2 628.0,131.2 629.0,130.1 C630.0,129.0 631.0,127.9 632.0,126.8 C633.0,125.7 634.0,124.6 635.0,123.6 C636.0,122.5 637.2,121.2 638.0,120.2 C638.8,119.3 639.7,118.4 640.0,118.0" fill="none" stroke="#2ca02c" stroke-width="3.2"/>
<path d="M176.0,578.5 C176.5,578.5 178.0,578.5 179.0,578.5 C180.0,578.4 181.0,578.4 182.0,578.4 C183.0,578.4 184.0,578.4 185.0,578.4 C186.0,578.3 187.0,578.3 188.0,578.3 C189.0,578.3 190.0,578.2 191.0,578.2 C192.0,578.2 193.0,578.1 194.0,578.1 C195.0,578.1 196.0,578.0 197.0,578.0 C198.0,578.0 199.0,577.9 200.0,577.9 C201.0,577.8 202.0,577.8 203.0,577.7 C204.0,577.7 205.0,577.6 206.0,577.6 C207.0,577.5 208.0,577.4 209.0,577.4 C210.0,577.3 211.0,577.2 212.0,577.2 C213.0,577.1 214.0,577.0 215.0,576.9 C216.0,576.8 217.0,576.8 218.0,576.7 C219.0,576.6 220.0,576.5 221.0,576.4 C222.0,576.3 223.0,576.2 224.0,576.0 C225.0,575.9 226.0,575.8 227.0,575.7 C228.0,575.6 229.0,575.5 230.0,575.3 C231.0,575.2 232.0,575.0 233.0,574.9 C234.0,574.8 235.0,574.6 236.0,574.5 C237.0,574.3 238.0,574.1 239.0,574.0 C240.0,573.8 241.0,573.6 242.0,573.5 C243.0,573.3 244.0,573.1 245.0,572.9 C246.0,572.7 247.0,572.5 248.0,572.3 C249.0,572.1 250.0,571.9 251.0,571.7 C252.0,571.4 253.0,571.2 254.0,571.0 C255.0,570.7 256.0,570.5 257.0,570.2 C258.0,570.0 259.0,569.7 260.0,569.5 C261.0,569.2 262.0,568.9 263.0,568.6 C264.0,568.4 265.0,568.1 266.0,567.8 C267.0,567.5 268.0,567.2 269.0,566.9 C270.0,566.5 271.0,566.2 272.0,565.9 C273.0,565.6 274.0,565.2 275.0,564.9 C276.0,564.5 277.0,564.2 278.0,563.8 C279.0,563.4 280.0,563.0 281.0,562.7 C282.0,562.3 283.0,561.9 284.0,561.5 C285.0,561.1 286.0,560.6 287.0,560.2 C288.0,559.8 289.0,559.4 290.0,558.9 C291.0,558.5 292.0,558.0 293.0,557.5 C294.0,557.1 295.0,556.6 296.0,556.1 C297.0,555.6 298.0,555.1 299.0,554.6 C300.0,554.1 301.0,553.6 302.0,553.1 C303.0,552.5 304.0,552.0 305.0,551.4 C306.0,550.9 307.0,550.3 308.0,549.7 C309.0,549.2 310.0,548.6 311.0,548.0 C312.0,547.4 313.0,546.8 314.0,546.2 C315.0,545.6 316.0,544.9 317.0,544.3 C318.0,543.7 319.0,543.0 320.0,542.4 C321.0,541.7 322.0,541.0 323.0,540.4 C324.0,539.7 325.0,539.0 326.0,538.3 C327.0,537.6 328.0,536.9 329.0,536.2 C330.0,535.5 331.0,534.7 332.0,534.0 C333.0,533.3 334.0,532.5 335.0,531.8 C336.0,531.0 337.0,530.3 338.0,529.5 C339.0,528.7 340.0,527.9 341.0,527.1 C342.0,526.4 343.0,525.6 344.0,524.8 C345.0,523.9 346.0,523.1 347.0,522.3 C348.0,521.5 349.0,520.6 350.0,519.8 C351.0,519.0 352.0,518.1 353.0,517.3 C354.0,516.4 355.0,515.5 356.0,514.7 C357.0,513.8 358.0,512.9 359.0,512.0 C360.0,511.1 361.0,510.2 362.0,509.3 C363.0,508.4 364.0,507.5 365.0,506.6 C366.0,505.6 367.0,504.7 368.0,503.8 C369.0,502.8 370.0,501.9 371.0,500.9 C372.0,500.0 373.0,499.0 374.0,498.1 C375.0,497.1 376.0,496.1 377.0,495.1 C378.0,494.1 379.0,493.1 380.0,492.2 C381.0,491.2 382.0,490.1 383.0,489.1 C384.0,488.1 385.0,487.1 386.0,486.1 C387.0,485.1 388.0,484.0 389.0,483.0 C390.0,481.9 391.0,480.9 392.0,479.8 C393.0,478.8 394.0,477.7 395.0,476.7 C396.0,475.6 397.0,474.5 398.0,473.4 C399.0,472.4 400.0,471.3 401.0,470.2 C402.0,469.1 403.0,468.0 404.0,466.9 C405.0,465.8 406.0,464.7 407.0,463.5 C408.0,462.4 409.0,461.3 410.0,460.2 C411.0,459.0 412.0,457.9 413.0,456.8 C414.0,455.6 415.0,454.5 416.0,453.3 C417.0,452.2 418.0,451.0 419.0,449.9 C420.0,448.7 421.0,447.5 422.0,446.4 C423.0,445.2 424.0,444.0 425.0,442.8 C426.0,441.7 427.0,440.5 428.0,439.3 C429.0,438.1 430.0,436.9 431.0,435.7 C432.0,434.5 433.0,433.3 434.0,432.1 C435.0,430.9 436.0,429.7 437.0,428.5 C438.0,427.3 439.0,426.1 440.0,424.8 C441.0,423.6 442.0,422.4 443.0,421.2 C444.0,420.0 445.0,418.7 446.0,417.5 C447.0,416.3 448.0,415.0 449.0,413.8 C450.0,412.6 451.0,411.3 452.0,410.1 C453.0,408.9 454.0,407.6 455.0,406.4 C456.0,405.1 457.0,403.9 458.0,402.7 C459.0,401.4 460.0,400.2 461.0,398.9 C462.0,397.7 463.0,396.4 464.0,395.2 C465.0,393.9 466.0,392.7 467.0,391.4 C468.0,390.1 469.0,388.9 470.0,387.6 C471.0,386.4 472.0,385.1 473.0,383.9 C474.0,382.6 475.0,381.4 476.0,380.1 C477.0,378.8 478.0,377.6 479.0,376.3 C480.0,375.1 481.0,373.8 482.0,372.6 C483.0,371.3 484.0,370.0 485.0,368.8 C486.0,367.5 487.0,366.3 488.0,365.0 C489.0,363.8 490.0,362.5 491.0,361.3 C492.0,360.0 493.0,358.8 494.0,357.5 C495.0,356.3 496.0,355.0 497.0,353.8 C498.0,352.6 499.0,351.3 500.0,350.1 C501.0,348.8 502.0,347.6 503.0,346.4 C504.0,345.2 505.0,343.9 506.0,342.7 C507.0,341.5 508.0,340.3 509.0,339.0 C510.0,337.8 511.0,336.6 512.0,335.4 C513.0,334.2 514.0,333.0 515.0,331.8 C516.0,330.6 517.0,329.4 518.0,328.2 C519.0,327.1 520.0,325.9 521.0,324.7 C522.0,323.5 523.0,322.4 524.0,321.2 C525.0,320.0 526.0,318.9 527.0,317.7 C528.0,316.6 529.0,315.4 530.0,314.3 C531.0,313.2 532.0,312.0 533.0,310.9 C534.0,309.8 535.0,308.7 536.0,307.6 C537.0,306.5 538.0,305.4 539.0,304.3 C540.0,303.2 541.0,302.1 542.0,301.0 C543.0,300.0 544.0,298.9 545.0,297.8 C546.0,296.8 547.0,295.7 548.0,294.7 C549.0,293.7 550.0,292.6 551.0,291.6 C552.0,290.6 553.0,289.6 554.0,288.6 C555.0,287.6 556.0,286.6 557.0,285.6 C558.0,284.6 559.0,283.7 560.0,282.7 C561.0,281.7 562.0,280.8 563.0,279.9 C564.0,278.9 565.0,278.0 566.0,277.1 C567.0,276.1 568.0,275.2 569.0,274.3 C570.0,273.4 571.0,272.5 572.0,271.6 C573.0,270.8 574.0,269.9 575.0,269.0 C576.0,268.2 577.0,267.3 578.0,266.5 C579.0,265.6 580.0,264.8 581.0,264.0 C582.0,263.2 583.0,262.3 584.0,261.5 C585.0,260.7 586.0,260.0 587.0,259.2 C588.0,258.4 589.0,257.6 590.0,256.9 C591.0,256.1 592.0,255.4 593.0,254.6 C594.0,253.9 595.0,253.2 596.0,252.5 C597.0,251.8 598.0,251.1 599.0,250.4 C600.0,249.7 601.0,249.0 602.0,248.3 C603.0,247.7 604.0,247.0 605.0,246.3 C606.0,245.7 607.0,245.1 608.0,244.4 C609.0,243.8 610.0,243.2 611.0,242.6 C612.0,242.0 613.0,241.4 614.0,240.8 C615.0,240.3 616.0,239.7 617.0,239.1 C618.0,238.6 619.0,238.0 620.0,237.5 C621.0,237.0 622.0,236.5 623.0,236.0 C624.0,235.5 625.0,235.0 626.0,234.5 C627.0,234.0 628.0,233.5 629.0,233.1 C630.0,232.6 631.0,232.2 632.0,231.7 C633.0,231.3 634.0,230.9 635.0,230.5 C636.0,230.1 637.2,229.6 638.0,229.3 C638.8,229.0 639.7,228.7 640.0,228.5" fill="none" stroke="#2ca02c" stroke-width="3.2"/>
<path d="M176.0,578.2 C176.5,578.2 178.0,578.2 179.0,578.3 C180.0,578.3 181.0,578.3 182.0,578.2 C183.0,578.2 184.0,578.2 185.0,578.2 C186.0,578.1 187.0,578.1 188.0,578.0 C189.0,578.0 190.0,577.9 191.0,577.8 C192.0,577.8 193.0,577.7 194.0,577.6 C195.0,577.5 196.0,577.4 197.0,577.2 C198.0,577.1 199.0,577.0 200.0,576.8 C201.0,576.7 202.0,576.6 203.0,576.4 C204.0,576.2 205.0,576.1 206.0,575.9 C207.0,575.7 208.0,575.5 209.0,575.3 C210.0,575.1 211.0,574.9 212.0,574.7 C213.0,574.4 214.0,574.2 215.0,573.9 C216.0,573.7 217.0,573.4 218.0,573.2 C219.0,572.9 220.0,572.6 221.0,572.4 C222.0,572.1 223.0,571.8 224.0,571.5 C225.0,571.2 226.0,570.8 227.0,570.5 C228.0,570.2 229.0,569.9 230.0,569.5 C231.0,569.2 232.0,568.8 233.0,568.4 C234.0,568.1 235.0,567.7 236.0,567.3 C237.0,566.9 238.0,566.5 239.0,566.1 C240.0,565.7 241.0,565.3 242.0,564.9 C243.0,564.4 244.0,564.0 245.0,563.6 C246.0,563.1 247.0,562.7 248.0,562.2 C249.0,561.7 250.0,561.2 251.0,560.8 C252.0,560.3 253.0,559.8 254.0,559.3 C255.0,558.8 256.0,558.3 257.0,557.7 C258.0,557.2 259.0,556.7 260.0,556.1 C261.0,555.6 262.0,555.0 263.0,554.5 C264.0,553.9 265.0,553.3 266.0,552.8 C267.0,552.2 268.0,551.6 269.0,551.0 C270.0,550.4 271.0,549.8 272.0,549.2 C273.0,548.5 274.0,547.9 275.0,547.3 C276.0,546.6 277.0,546.0 278.0,545.3 C279.0,544.7 280.0,544.0 281.0,543.3 C282.0,542.7 283.0,542.0 284.0,541.3 C285.0,540.6 286.0,539.9 287.0,539.2 C288.0,538.5 289.0,537.7 290.0,537.0 C291.0,536.3 292.0,535.5 293.0,534.8 C294.0,534.1 295.0,533.3 296.0,532.5 C297.0,531.8 298.0,531.0 299.0,530.2 C300.0,529.5 301.0,528.7 302.0,527.9 C303.0,527.1 304.0,526.3 305.0,525.5 C306.0,524.7 307.0,523.9 308.0,523.0 C309.0,522.2 310.0,521.4 311.0,520.6 C312.0,519.7 313.0,518.9 314.0,518.1 C315.0,517.2 316.0,516.4 317.0,515.5 C318.0,514.7 319.0,513.8 320.0,512.9 C321.0,512.1 322.0,511.2 323.0,510.3 C324.0,509.4 325.0,508.5 326.0,507.6 C327.0,506.7 328.0,505.8 329.0,504.9 C330.0,503.9 331.0,503.0 332.0,502.0 C333.0,501.1 334.0,500.1 335.0,499.1 C336.0,498.1 337.0,497.1 338.0,496.1 C339.0,495.1 340.0,494.0 341.0,493.0 C342.0,491.9 343.0,490.8 344.0,489.7 C345.0,488.6 346.0,487.5 347.0,486.4 C348.0,485.2 349.0,484.1 350.0,482.9 C351.0,481.7 352.0,480.5 353.0,479.3 C354.0,478.1 355.0,476.9 356.0,475.7 C357.0,474.4 358.0,473.2 359.0,471.9 C360.0,470.7 361.0,469.4 362.0,468.1 C363.0,466.8 364.0,465.5 365.0,464.2 C366.0,462.9 367.0,461.6 368.0,460.3 C369.0,458.9 370.0,457.6 371.0,456.2 C372.0,454.9 373.0,453.6 374.0,452.2 C375.0,450.8 376.0,449.5 377.0,448.1 C378.0,446.8 379.0,445.4 380.0,444.0 C381.0,442.7 382.0,441.3 383.0,439.9 C384.0,438.5 385.0,437.2 386.0,435.8 C387.0,434.4 388.0,433.0 389.0,431.7 C390.0,430.3 391.0,428.9 392.0,427.5 C393.0,426.2 394.0,424.8 395.0,423.4 C396.0,422.1 397.0,420.7 398.0,419.3 C399.0,418.0 400.0,416.6 401.0,415.3 C402.0,413.9 403.0,412.6 404.0,411.2 C405.0,409.9 406.0,408.5 407.0,407.2 C408.0,405.8 409.0,404.5 410.0,403.1 C411.0,401.8 412.0,400.5 413.0,399.1 C414.0,397.8 415.0,396.5 416.0,395.2 C417.0,393.8 418.0,392.5 419.0,391.2 C420.0,389.9 421.0,388.5 422.0,387.2 C423.0,385.9 424.0,384.6 425.0,383.3 C426.0,382.0 427.0,380.7 428.0,379.4 C429.0,378.1 430.0,376.8 431.0,375.5 C432.0,374.2 433.0,372.9 434.0,371.6 C435.0,370.4 436.0,369.1 437.0,367.8 C438.0,366.5 439.0,365.3 440.0,364.0 C441.0,362.7 442.0,361.5 443.0,360.2 C444.0,358.9 445.0,357.7 446.0,356.4 C447.0,355.2 448.0,353.9 449.0,352.7 C450.0,351.4 451.0,350.2 452.0,349.0 C453.0,347.7 454.0,346.5 455.0,345.3 C456.0,344.1 457.0,342.8 458.0,341.6 C459.0,340.4 460.0,339.2 461.0,338.0 C462.0,336.8 463.0,335.6 464.0,334.4 C465.0,333.2 466.0,332.0 467.0,330.8 C468.0,329.7 469.0,328.5 470.0,327.3 C471.0,326.1 472.0,325.0 473.0,323.8 C474.0,322.6 475.0,321.5 476.0,320.3 C477.0,319.2 478.0,318.0 479.0,316.9 C480.0,315.7 481.0,314.6 482.0,313.5 C483.0,312.4 484.0,311.2 485.0,310.1 C486.0,309.0 487.0,307.9 488.0,306.8 C489.0,305.7 490.0,304.6 491.0,303.5 C492.0,302.4 493.0,301.3 494.0,300.2 C495.0,299.1 496.0,298.1 497.0,297.0 C498.0,295.9 499.0,294.9 500.0,293.8 C501.0,292.8 502.0,291.7 503.0,290.7 C504.0,289.6 505.0,288.6 506.0,287.6 C507.0,286.5 508.0,285.5 509.0,284.5 C510.0,283.5 511.0,282.5 512.0,281.5 C513.0,280.5 514.0,279.5 515.0,278.5 C516.0,277.5 517.0,276.5 518.0,275.5 C519.0,274.5 520.0,273.5 521.0,272.6 C522.0,271.6 523.0,270.6 524.0,269.7 C525.0,268.7 526.0,267.8 527.0,266.8 C528.0,265.8 529.0,264.9 530.0,263.9 C531.0,263.0 532.0,262.1 533.0,261.1 C534.0,260.2 535.0,259.2 536.0,258.3 C537.0,257.4 538.0,256.5 539.0,255.5 C540.0,254.6 541.0,253.7 542.0,252.8 C543.0,251.8 544.0,250.9 545.0,250.0 C546.0,249.1 547.0,248.2 548.0,247.3 C549.0,246.3 550.0,245.4 551.0,244.5 C552.0,243.6 553.0,242.7 554.0,241.8 C555.0,240.9 556.0,240.0 557.0,239.1 C558.0,238.2 559.0,237.3 560.0,236.4 C561.0,235.5 562.0,234.6 563.0,233.7 C564.0,232.8 565.0,231.9 566.0,231.0 C567.0,230.1 568.0,229.1 569.0,228.2 C570.0,227.3 571.0,226.4 572.0,225.5 C573.0,224.6 574.0,223.7 575.0,222.8 C576.0,221.9 577.0,221.0 578.0,220.1 C579.0,219.2 580.0,218.3 581.0,217.3 C582.0,216.4 583.0,215.5 584.0,214.6 C585.0,213.7 586.0,212.7 587.0,211.8 C588.0,210.9 589.0,210.0 590.0,209.0 C591.0,208.1 592.0,207.2 593.0,206.2 C594.0,205.3 595.0,204.4 596.0,203.4 C597.0,202.5 598.0,201.5 599.0,200.6 C600.0,199.6 601.0,198.7 602.0,197.7 C603.0,196.8 604.0,195.8 605.0,194.8 C606.0,193.9 607.0,192.9 608.0,191.9 C609.0,190.9 610.0,189.9 611.0,189.0 C612.0,188.0 613.0,187.0 614.0,186.0 C615.0,185.0 616.0,184.0 617.0,183.0 C618.0,181.9 619.0,180.9 620.0,179.9 C621.0,178.9 622.0,177.8 623.0,176.8 C624.0,175.8 625.0,174.7 626.0,173.7 C627.0,172.6 628.0,171.6 629.0,170.5 C630.0,169.4 631.0,168.4 632.0,167.3 C633.0,166.2 634.0,165.1 635.0,164.0 C636.0,162.9 637.2,161.6 638.0,160.7 C638.8,159.8 639.7,158.8 640.0,158.5 L640.0,284.0 C639.7,284.2 638.8,284.5 638.0,284.9 C637.2,285.3 636.0,285.9 635.0,286.3 C634.0,286.8 633.0,287.3 632.0,287.7 C631.0,288.2 630.0,288.7 629.0,289.2 C628.0,289.6 627.0,290.1 626.0,290.6 C625.0,291.0 624.0,291.5 623.0,292.0 C622.0,292.4 621.0,292.9 620.0,293.4 C619.0,293.9 618.0,294.3 617.0,294.8 C616.0,295.3 615.0,295.7 614.0,296.2 C613.0,296.7 612.0,297.2 611.0,297.6 C610.0,298.1 609.0,298.6 608.0,299.1 C607.0,299.6 606.0,300.0 605.0,300.5 C604.0,301.0 603.0,301.5 602.0,302.0 C601.0,302.5 600.0,302.9 599.0,303.4 C598.0,303.9 597.0,304.4 596.0,304.9 C595.0,305.4 594.0,305.9 593.0,306.4 C592.0,306.9 591.0,307.4 590.0,307.9 C589.0,308.4 588.0,308.9 587.0,309.4 C586.0,309.9 585.0,310.4 584.0,310.9 C583.0,311.4 582.0,312.0 581.0,312.5 C580.0,313.0 579.0,313.5 578.0,314.0 C577.0,314.6 576.0,315.1 575.0,315.6 C574.0,316.1 573.0,316.7 572.0,317.2 C571.0,317.7 570.0,318.3 569.0,318.8 C568.0,319.4 567.0,319.9 566.0,320.5 C565.0,321.0 564.0,321.6 563.0,322.1 C562.0,322.7 561.0,323.2 560.0,323.8 C559.0,324.4 558.0,324.9 557.0,325.5 C556.0,326.1 555.0,326.7 554.0,327.2 C553.0,327.8 552.0,328.4 551.0,329.0 C550.0,329.6 549.0,330.2 548.0,330.8 C547.0,331.4 546.0,332.0 545.0,332.6 C544.0,333.2 543.0,333.8 542.0,334.4 C541.0,335.1 540.0,335.7 539.0,336.3 C538.0,336.9 537.0,337.6 536.0,338.2 C535.0,338.9 534.0,339.5 533.0,340.2 C532.0,340.8 531.0,341.5 530.0,342.1 C529.0,342.8 528.0,343.4 527.0,344.1 C526.0,344.8 525.0,345.5 524.0,346.2 C523.0,346.8 522.0,347.5 521.0,348.2 C520.0,348.9 519.0,349.6 518.0,350.3 C517.0,351.0 516.0,351.8 515.0,352.5 C514.0,353.2 513.0,353.9 512.0,354.7 C511.0,355.4 510.0,356.1 509.0,356.9 C508.0,357.6 507.0,358.4 506.0,359.1 C505.0,359.9 504.0,360.7 503.0,361.5 C502.0,362.2 501.0,363.0 500.0,363.8 C499.0,364.6 498.0,365.4 497.0,366.2 C496.0,367.0 495.0,367.8 494.0,368.6 C493.0,369.4 492.0,370.3 491.0,371.1 C490.0,371.9 489.0,372.8 488.0,373.6 C487.0,374.5 486.0,375.4 485.0,376.2 C484.0,377.1 483.0,378.0 482.0,378.8 C481.0,379.7 480.0,380.6 479.0,381.5 C478.0,382.4 477.0,383.3 476.0,384.2 C475.0,385.1 474.0,386.0 473.0,387.0 C472.0,387.9 471.0,388.8 470.0,389.7 C469.0,390.7 468.0,391.6 467.0,392.5 C466.0,393.5 465.0,394.4 464.0,395.4 C463.0,396.3 462.0,397.3 461.0,398.2 C460.0,399.2 459.0,400.2 458.0,401.1 C457.0,402.1 456.0,403.1 455.0,404.0 C454.0,405.0 453.0,406.0 452.0,406.9 C451.0,407.9 450.0,408.9 449.0,409.9 C448.0,410.8 447.0,411.8 446.0,412.8 C445.0,413.8 444.0,414.8 443.0,415.7 C442.0,416.7 441.0,417.7 440.0,418.7 C439.0,419.7 438.0,420.7 437.0,421.6 C436.0,422.6 435.0,423.6 434.0,424.6 C433.0,425.6 432.0,426.5 431.0,427.5 C430.0,428.5 429.0,429.5 428.0,430.5 C427.0,431.5 426.0,432.4 425.0,433.4 C424.0,434.4 423.0,435.4 422.0,436.4 C421.0,437.3 420.0,438.3 419.0,439.3 C418.0,440.3 417.0,441.3 416.0,442.2 C415.0,443.2 414.0,444.2 413.0,445.2 C412.0,446.2 411.0,447.1 410.0,448.1 C409.0,449.1 408.0,450.1 407.0,451.1 C406.0,452.0 405.0,453.0 404.0,454.0 C403.0,455.0 402.0,456.0 401.0,457.0 C400.0,457.9 399.0,458.9 398.0,459.9 C397.0,460.9 396.0,461.9 395.0,462.9 C394.0,463.8 393.0,464.8 392.0,465.8 C391.0,466.8 390.0,467.8 389.0,468.8 C388.0,469.8 387.0,470.8 386.0,471.7 C385.0,472.7 384.0,473.7 383.0,474.7 C382.0,475.7 381.0,476.7 380.0,477.7 C379.0,478.7 378.0,479.6 377.0,480.6 C376.0,481.6 375.0,482.6 374.0,483.6 C373.0,484.6 372.0,485.5 371.0,486.5 C370.0,487.5 369.0,488.5 368.0,489.5 C367.0,490.4 366.0,491.4 365.0,492.4 C364.0,493.3 363.0,494.3 362.0,495.3 C361.0,496.2 360.0,497.2 359.0,498.2 C358.0,499.1 357.0,500.1 356.0,501.0 C355.0,502.0 354.0,502.9 353.0,503.9 C352.0,504.8 351.0,505.8 350.0,506.7 C349.0,507.6 348.0,508.6 347.0,509.5 C346.0,510.4 345.0,511.3 344.0,512.2 C343.0,513.2 342.0,514.1 341.0,515.0 C340.0,515.9 339.0,516.8 338.0,517.7 C337.0,518.6 336.0,519.4 335.0,520.3 C334.0,521.2 333.0,522.1 332.0,522.9 C331.0,523.8 330.0,524.7 329.0,525.5 C328.0,526.4 327.0,527.2 326.0,528.0 C325.0,528.9 324.0,529.7 323.0,530.5 C322.0,531.3 321.0,532.1 320.0,532.9 C319.0,533.7 318.0,534.5 317.0,535.3 C316.0,536.1 315.0,536.8 314.0,537.6 C313.0,538.4 312.0,539.1 311.0,539.8 C310.0,540.6 309.0,541.3 308.0,542.0 C307.0,542.7 306.0,543.4 305.0,544.1 C304.0,544.8 303.0,545.5 302.0,546.2 C301.0,546.8 300.0,547.5 299.0,548.1 C298.0,548.8 297.0,549.4 296.0,550.0 C295.0,550.7 294.0,551.3 293.0,551.9 C292.0,552.4 291.0,553.0 290.0,553.6 C289.0,554.1 288.0,554.7 287.0,555.2 C286.0,555.8 285.0,556.3 284.0,556.8 C283.0,557.3 282.0,557.8 281.0,558.3 C280.0,558.8 279.0,559.2 278.0,559.7 C277.0,560.1 276.0,560.6 275.0,561.0 C274.0,561.4 273.0,561.8 272.0,562.3 C271.0,562.7 270.0,563.1 269.0,563.4 C268.0,563.8 267.0,564.2 266.0,564.5 C265.0,564.9 264.0,565.3 263.0,565.6 C262.0,565.9 261.0,566.3 260.0,566.6 C259.0,566.9 258.0,567.2 257.0,567.5 C256.0,567.8 255.0,568.1 254.0,568.4 C253.0,568.6 252.0,568.9 251.0,569.2 C250.0,569.4 249.0,569.7 248.0,569.9 C247.0,570.2 246.0,570.4 245.0,570.6 C244.0,570.9 243.0,571.1 242.0,571.3 C241.0,571.5 240.0,571.7 239.0,571.9 C238.0,572.1 237.0,572.3 236.0,572.5 C235.0,572.6 234.0,572.8 233.0,573.0 C232.0,573.2 231.0,573.3 230.0,573.5 C229.0,573.6 228.0,573.8 227.0,573.9 C226.0,574.1 225.0,574.2 224.0,574.3 C223.0,574.5 222.0,574.6 221.0,574.7 C220.0,574.8 219.0,575.0 218.0,575.1 C217.0,575.2 216.0,575.3 215.0,575.4 C214.0,575.5 213.0,575.6 212.0,575.7 C211.0,575.8 210.0,575.9 209.0,576.0 C208.0,576.1 207.0,576.2 206.0,576.3 C205.0,576.3 204.0,576.4 203.0,576.5 C202.0,576.6 201.0,576.7 200.0,576.7 C199.0,576.8 198.0,576.9 197.0,577.0 C196.0,577.0 195.0,577.1 194.0,577.2 C193.0,577.2 192.0,577.3 191.0,577.4 C190.0,577.4 189.0,577.5 188.0,577.6 C187.0,577.6 186.0,577.7 185.0,577.8 C184.0,577.8 183.0,577.9 182.0,578.0 C181.0,578.1 180.0,578.1 179.0,578.2 C178.0,578.3 176.5,578.4 176.0,578.4 Z" fill="#ff7f0e" fill-opacity="0.30"/>
<path d="M176.0,578.2 C176.5,578.2 178.0,578.2 179.0,578.3 C180.0,578.3 181.0,578.3 182.0,578.2 C183.0,578.2 184.0,578.2 185.0,578.2 C186.0,578.1 187.0,578.1 188.0,578.0 C189.0,578.0 190.0,577.9 191.0,577.8 C192.0,577.8 193.0,577.7 194.0,577.6 C195.0,577.5 196.0,577.4 197.0,577.2 C198.0,577.1 199.0,577.0 200.0,576.8 C201.0,576.7 202.0,576.6 203.0,576.4 C204.0,576.2 205.0,576.1 206.0,575.9 C207.0,575.7 208.0,575.5 209.0,575.3 C210.0,575.1 211.0,574.9 212.0,574.7 C213.0,574.4 214.0,574.2 215.0,573.9 C216.0,573.7 217.0,573.4 218.0,573.2 C219.0,572.9 220.0,572.6 221.0,572.4 C222.0,572.1 223.0,571.8 224.0,571.5 C225.0,571.2 226.0,570.8 227.0,570.5 C228.0,570.2 229.0,569.9 230.0,569.5 C231.0,569.2 232.0,568.8 233.0,568.4 C234.0,568.1 235.0,567.7 236.0,567.3 C237.0,566.9 238.0,566.5 239.0,566.1 C240.0,565.7 241.0,565.3 242.0,564.9 C243.0,564.4 244.0,564.0 245.0,563.6 C246.0,563.1 247.0,562.7 248.0,562.2 C249.0,561.7 250.0,561.2 251.0,560.8 C252.0,560.3 253.0,559.8 254.0,559.3 C255.0,558.8 256.0,558.3 257.0,557.7 C258.0,557.2 259.0,556.7 260.0,556.1 C261.0,555.6 262.0,555.0 263.0,554.5 C264.0,553.9 265.0,553.3 266.0,552.8 C267.0,552.2 268.0,551.6 269.0,551.0 C270.0,550.4 271.0,549.8 272.0,549.2 C273.0,548.5 274.0,547.9 275.0,547.3 C276.0,546.6 277.0,546.0 278.0,545.3 C279.0,544.7 280.0,544.0 281.0,543.3 C282.0,542.7 283.0,542.0 284.0,541.3 C285.0,540.6 286.0,539.9 287.0,539.2 C288.0,538.5 289.0,537.7 290.0,537.0 C291.0,536.3 292.0,535.5 293.0,534.8 C294.0,534.1 295.0,533.3 296.0,532.5 C297.0,531.8 298.0,531.0 299.0,530.2 C300.0,529.5 301.0,528.7 302.0,527.9 C303.0,527.1 304.0,526.3 305.0,525.5 C306.0,524.7 307.0,523.9 308.0,523.0 C309.0,522.2 310.0,521.4 311.0,520.6 C312.0,519.7 313.0,518.9 314.0,518.1 C315.0,517.2 316.0,516.4 317.0,515.5 C318.0,514.7 319.0,513.8 320.0,512.9 C321.0,512.1 322.0,511.2 323.0,510.3 C324.0,509.4 325.0,508.5 326.0,507.6 C327.0,506.7 328.0,505.8 329.0,504.9 C330.0,503.9 331.0,503.0 332.0,502.0 C333.0,501.1 334.0,500.1 335.0,499.1 C336.0,498.1 337.0,497.1 338.0,496.1 C339.0,495.1 340.0,494.0 341.0,493.0 C342.0,491.9 343.0,490.8 344.0,489.7 C345.0,488.6 346.0,487.5 347.0,486.4 C348.0,485.2 349.0,484.1 350.0,482.9 C351.0,481.7 352.0,480.5 353.0,479.3 C354.0,478.1 355.0,476.9 356.0,475.7 C357.0,474.4 358.0,473.2 359.0,471.9 C360.0,470.7 361.0,469.4 362.0,468.1 C363.0,466.8 364.0,465.5 365.0,464.2 C366.0,462.9 367.0,461.6 368.0,460.3 C369.0,458.9 370.0,457.6 371.0,456.2 C372.0,454.9 373.0,453.6 374.0,452.2 C375.0,450.8 376.0,449.5 377.0,448.1 C378.0,446.8 379.0,445.4 380.0,444.0 C381.0,442.7 382.0,441.3 383.0,439.9 C384.0,438.5 385.0,437.2 386.0,435.8 C387.0,434.4 388.0,433.0 389.0,431.7 C390.0,430.3 391.0,428.9 392.0,427.5 C393.0,426.2 394.0,424.8 395.0,423.4 C396.0,422.1 397.0,420.7 398.0,419.3 C399.0,418.0 400.0,416.6 401.0,415.3 C402.0,413.9 403.0,412.6 404.0,411.2 C405.0,409.9 406.0,408.5 407.0,407.2 C408.0,405.8 409.0,404.5 410.0,403.1 C411.0,401.8 412.0,400.5 413.0,399.1 C414.0,397.8 415.0,396.5 416.0,395.2 C417.0,393.8 418.0,392.5 419.0,391.2 C420.0,389.9 421.0,388.5 422.0,387.2 C423.0,385.9 424.0,384.6 425.0,383.3 C426.0,382.0 427.0,380.7 428.0,379.4 C429.0,378.1 430.0,376.8 431.0,375.5 C432.0,374.2 433.0,372.9 434.0,371.6 C435.0,370.4 436.0,369.1 437.0,367.8 C438.0,366.5 439.0,365.3 440.0,364.0 C441.0,362.7 442.0,361.5 443.0,360.2 C444.0,358.9 445.0,357.7 446.0,356.4 C447.0,355.2 448.0,353.9 449.0,352.7 C450.0,351.4 451.0,350.2 452.0,349.0 C453.0,347.7 454.0,346.5 455.0,345.3 C456.0,344.1 457.0,342.8 458.0,341.6 C459.0,340.4 460.0,339.2 461.0,338.0 C462.0,336.8 463.0,335.6 464.0,334.4 C465.0,333.2 466.0,332.0 467.0,330.8 C468.0,329.7 469.0,328.5 470.0,327.3 C471.0,326.1 472.0,325.0 473.0,323.8 C474.0,322.6 475.0,321.5 476.0,320.3 C477.0,319.2 478.0,318.0 479.0,316.9 C480.0,315.7 481.0,314.6 482.0,313.5 C483.0,312.4 484.0,311.2 485.0,310.1 C486.0,309.0 487.0,307.9 488.0,306.8 C489.0,305.7 490.0,304.6 491.0,303.5 C492.0,302.4 493.0,301.3 494.0,300.2 C495.0,299.1 496.0,298.1 497.0,297.0 C498.0,295.9 499.0,294.9 500.0,293.8 C501.0,292.8 502.0,291.7 503.0,290.7 C504.0,289.6 505.0,288.6 506.0,287.6 C507.0,286.5 508.0,285.5 509.0,284.5 C510.0,283.5 511.0,282.5 512.0,281.5 C513.0,280.5 514.0,279.5 515.0,278.5 C516.0,277.5 517.0,276.5 518.0,275.5 C519.0,274.5 520.0,273.5 521.0,272.6 C522.0,271.6 523.0,270.6 524.0,269.7 C525.0,268.7 526.0,267.8 527.0,266.8 C528.0,265.8 529.0,264.9 530.0,263.9 C531.0,263.0 532.0,262.1 533.0,261.1 C534.0,260.2 535.0,259.2 536.0,258.3 C537.0,257.4 538.0,256.5 539.0,255.5 C540.0,254.6 541.0,253.7 542.0,252.8 C543.0,251.8 544.0,250.9 545.0,250.0 C546.0,249.1 547.0,248.2 548.0,247.3 C549.0,246.3 550.0,245.4 551.0,244.5 C552.0,243.6 553.0,242.7 554.0,241.8 C555.0,240.9 556.0,240.0 557.0,239.1 C558.0,238.2 559.0,237.3 560.0,236.4 C561.0,235.5 562.0,234.6 563.0,233.7 C564.0,232.8 565.0,231.9 566.0,231.0 C567.0,230.1 568.0,229.1 569.0,228.2 C570.0,227.3 571.0,226.4 572.0,225.5 C573.0,224.6 574.0,223.7 575.0,222.8 C576.0,221.9 577.0,221.0 578.0,220.1 C579.0,219.2 580.0,218.3 581.0,217.3 C582.0,216.4 583.0,215.5 584.0,214.6 C585.0,213.7 586.0,212.7 587.0,211.8 C588.0,210.9 589.0,210.0 590.0,209.0 C591.0,208.1 592.0,207.2 593.0,206.2 C594.0,205.3 595.0,204.4 596.0,203.4 C597.0,202.5 598.0,201.5 599.0,200.6 C600.0,199.6 601.0,198.7 602.0,197.7 C603.0,196.8 604.0,195.8 605.0,194.8 C606.0,193.9 607.0,192.9 608.0,191.9 C609.0,190.9 610.0,189.9 611.0,189.0 C612.0,188.0 613.0,187.0 614.0,186.0 C615.0,185.0 616.0,184.0 617.0,183.0 C618.0,181.9 619.0,180.9 620.0,179.9 C621.0,178.9 622.0,177.8 623.0,176.8 C624.0,175.8 625.0,174.7 626.0,173.7 C627.0,172.6 628.0,171.6 629.0,170.5 C630.0,169.4 631.0,168.4 632.0,167.3 C633.0,166.2 634.0,165.1 635.0,164.0 C636.0,162.9 637.2,161.6 638.0,160.7 C638.8,159.8 639.7,158.8 640.0,158.5" fill="none" stroke="#ff7f0e" stroke-width="3.2"/>
<path d="M176.0,578.4 C176.5,578.4 178.0,578.3 179.0,578.2 C180.0,578.1 181.0,578.1 182.0,578.0 C183.0,577.9 184.0,577.8 185.0,577.8 C186.0,577.7 187.0,577.6 188.0,577.6 C189.0,577.5 190.0,577.4 191.0,577.4 C192.0,577.3 193.0,577.2 194.0,577.2 C195.0,577.1 196.0,577.0 197.0,577.0 C198.0,576.9 199.0,576.8 200.0,576.7 C201.0,576.7 202.0,576.6 203.0,576.5 C204.0,576.4 205.0,576.3 206.0,576.3 C207.0,576.2 208.0,576.1 209.0,576.0 C210.0,575.9 211.0,575.8 212.0,575.7 C213.0,575.6 214.0,575.5 215.0,575.4 C216.0,575.3 217.0,575.2 218.0,575.1 C219.0,575.0 220.0,574.8 221.0,574.7 C222.0,574.6 223.0,574.5 224.0,574.3 C225.0,574.2 226.0,574.1 227.0,573.9 C228.0,573.8 229.0,573.6 230.0,573.5 C231.0,573.3 232.0,573.2 233.0,573.0 C234.0,572.8 235.0,572.6 236.0,572.5 C237.0,572.3 238.0,572.1 239.0,571.9 C240.0,571.7 241.0,571.5 242.0,571.3 C243.0,571.1 244.0,570.9 245.0,570.6 C246.0,570.4 247.0,570.2 248.0,569.9 C249.0,569.7 250.0,569.4 251.0,569.2 C252.0,568.9 253.0,568.6 254.0,568.4 C255.0,568.1 256.0,567.8 257.0,567.5 C258.0,567.2 259.0,566.9 260.0,566.6 C261.0,566.3 262.0,565.9 263.0,565.6 C264.0,565.3 265.0,564.9 266.0,564.5 C267.0,564.2 268.0,563.8 269.0,563.4 C270.0,563.1 271.0,562.7 272.0,562.3 C273.0,561.8 274.0,561.4 275.0,561.0 C276.0,560.6 277.0,560.1 278.0,559.7 C279.0,559.2 280.0,558.8 281.0,558.3 C282.0,557.8 283.0,557.3 284.0,556.8 C285.0,556.3 286.0,555.8 287.0,555.2 C288.0,554.7 289.0,554.1 290.0,553.6 C291.0,553.0 292.0,552.4 293.0,551.9 C294.0,551.3 295.0,550.7 296.0,550.0 C297.0,549.4 298.0,548.8 299.0,548.1 C300.0,547.5 301.0,546.8 302.0,546.2 C303.0,545.5 304.0,544.8 305.0,544.1 C306.0,543.4 307.0,542.7 308.0,542.0 C309.0,541.3 310.0,540.6 311.0,539.8 C312.0,539.1 313.0,538.4 314.0,537.6 C315.0,536.8 316.0,536.1 317.0,535.3 C318.0,534.5 319.0,533.7 320.0,532.9 C321.0,532.1 322.0,531.3 323.0,530.5 C324.0,529.7 325.0,528.9 326.0,528.0 C327.0,527.2 328.0,526.4 329.0,525.5 C330.0,524.7 331.0,523.8 332.0,522.9 C333.0,522.1 334.0,521.2 335.0,520.3 C336.0,519.4 337.0,518.6 338.0,517.7 C339.0,516.8 340.0,515.9 341.0,515.0 C342.0,514.1 343.0,513.2 344.0,512.2 C345.0,511.3 346.0,510.4 347.0,509.5 C348.0,508.6 349.0,507.6 350.0,506.7 C351.0,505.8 352.0,504.8 353.0,503.9 C354.0,502.9 355.0,502.0 356.0,501.0 C357.0,500.1 358.0,499.1 359.0,498.2 C360.0,497.2 361.0,496.2 362.0,495.3 C363.0,494.3 364.0,493.3 365.0,492.4 C366.0,491.4 367.0,490.4 368.0,489.5 C369.0,488.5 370.0,487.5 371.0,486.5 C372.0,485.5 373.0,484.6 374.0,483.6 C375.0,482.6 376.0,481.6 377.0,480.6 C378.0,479.6 379.0,478.7 380.0,477.7 C381.0,476.7 382.0,475.7 383.0,474.7 C384.0,473.7 385.0,472.7 386.0,471.7 C387.0,470.8 388.0,469.8 389.0,468.8 C390.0,467.8 391.0,466.8 392.0,465.8 C393.0,464.8 394.0,463.8 395.0,462.9 C396.0,461.9 397.0,460.9 398.0,459.9 C399.0,458.9 400.0,457.9 401.0,457.0 C402.0,456.0 403.0,455.0 404.0,454.0 C405.0,453.0 406.0,452.0 407.0,451.1 C408.0,450.1 409.0,449.1 410.0,448.1 C411.0,447.1 412.0,446.2 413.0,445.2 C414.0,444.2 415.0,443.2 416.0,442.2 C417.0,441.3 418.0,440.3 419.0,439.3 C420.0,438.3 421.0,437.3 422.0,436.4 C423.0,435.4 424.0,434.4 425.0,433.4 C426.0,432.4 427.0,431.5 428.0,430.5 C429.0,429.5 430.0,428.5 431.0,427.5 C432.0,426.5 433.0,425.6 434.0,424.6 C435.0,423.6 436.0,422.6 437.0,421.6 C438.0,420.7 439.0,419.7 440.0,418.7 C441.0,417.7 442.0,416.7 443.0,415.7 C444.0,414.8 445.0,413.8 446.0,412.8 C447.0,411.8 448.0,410.8 449.0,409.9 C450.0,408.9 451.0,407.9 452.0,406.9 C453.0,406.0 454.0,405.0 455.0,404.0 C456.0,403.1 457.0,402.1 458.0,401.1 C459.0,400.2 460.0,399.2 461.0,398.2 C462.0,397.3 463.0,396.3 464.0,395.4 C465.0,394.4 466.0,393.5 467.0,392.5 C468.0,391.6 469.0,390.7 470.0,389.7 C471.0,388.8 472.0,387.9 473.0,387.0 C474.0,386.0 475.0,385.1 476.0,384.2 C477.0,383.3 478.0,382.4 479.0,381.5 C480.0,380.6 481.0,379.7 482.0,378.8 C483.0,378.0 484.0,377.1 485.0,376.2 C486.0,375.4 487.0,374.5 488.0,373.6 C489.0,372.8 490.0,371.9 491.0,371.1 C492.0,370.3 493.0,369.4 494.0,368.6 C495.0,367.8 496.0,367.0 497.0,366.2 C498.0,365.4 499.0,364.6 500.0,363.8 C501.0,363.0 502.0,362.2 503.0,361.5 C504.0,360.7 505.0,359.9 506.0,359.1 C507.0,358.4 508.0,357.6 509.0,356.9 C510.0,356.1 511.0,355.4 512.0,354.7 C513.0,353.9 514.0,353.2 515.0,352.5 C516.0,351.8 517.0,351.0 518.0,350.3 C519.0,349.6 520.0,348.9 521.0,348.2 C522.0,347.5 523.0,346.8 524.0,346.2 C525.0,345.5 526.0,344.8 527.0,344.1 C528.0,343.4 529.0,342.8 530.0,342.1 C531.0,341.5 532.0,340.8 533.0,340.2 C534.0,339.5 535.0,338.9 536.0,338.2 C537.0,337.6 538.0,336.9 539.0,336.3 C540.0,335.7 541.0,335.1 542.0,334.4 C543.0,333.8 544.0,333.2 545.0,332.6 C546.0,332.0 547.0,331.4 548.0,330.8 C549.0,330.2 550.0,329.6 551.0,329.0 C552.0,328.4 553.0,327.8 554.0,327.2 C555.0,326.7 556.0,326.1 557.0,325.5 C558.0,324.9 559.0,324.4 560.0,323.8 C561.0,323.2 562.0,322.7 563.0,322.1 C564.0,321.6 565.0,321.0 566.0,320.5 C567.0,319.9 568.0,319.4 569.0,318.8 C570.0,318.3 571.0,317.7 572.0,317.2 C573.0,316.7 574.0,316.1 575.0,315.6 C576.0,315.1 577.0,314.6 578.0,314.0 C579.0,313.5 580.0,313.0 581.0,312.5 C582.0,312.0 583.0,311.4 584.0,310.9 C585.0,310.4 586.0,309.9 587.0,309.4 C588.0,308.9 589.0,308.4 590.0,307.9 C591.0,307.4 592.0,306.9 593.0,306.4 C594.0,305.9 595.0,305.4 596.0,304.9 C597.0,304.4 598.0,303.9 599.0,303.4 C600.0,302.9 601.0,302.5 602.0,302.0 C603.0,301.5 604.0,301.0 605.0,300.5 C606.0,300.0 607.0,299.6 608.0,299.1 C609.0,298.6 610.0,298.1 611.0,297.6 C612.0,297.2 613.0,296.7 614.0,296.2 C615.0,295.7 616.0,295.3 617.0,294.8 C618.0,294.3 619.0,293.9 620.0,293.4 C621.0,292.9 622.0,292.4 623.0,292.0 C624.0,291.5 625.0,291.0 626.0,290.6 C627.0,290.1 628.0,289.6 629.0,289.2 C630.0,288.7 631.0,288.2 632.0,287.7 C633.0,287.3 634.0,286.8 635.0,286.3 C636.0,285.9 637.2,285.3 638.0,284.9 C638.8,284.5 639.7,284.2 640.0,284.0" fill="none" stroke="#ff7f0e" stroke-width="3.2"/>
<path d="M176.0,578.2 C176.5,578.2 178.0,578.1 179.0,578.1 C180.0,578.0 181.0,578.0 182.0,577.9 C183.0,577.9 184.0,577.8 185.0,577.8 C186.0,577.7 187.0,577.6 188.0,577.6 C189.0,577.5 190.0,577.4 191.0,577.3 C192.0,577.2 193.0,577.1 194.0,577.0 C195.0,576.9 196.0,576.8 197.0,576.7 C198.0,576.6 199.0,576.5 200.0,576.4 C201.0,576.2 202.0,576.1 203.0,576.0 C204.0,575.8 205.0,575.7 206.0,575.5 C207.0,575.4 208.0,575.2 209.0,575.0 C210.0,574.8 211.0,574.7 212.0,574.5 C213.0,574.3 214.0,574.1 215.0,573.9 C216.0,573.7 217.0,573.4 218.0,573.2 C219.0,573.0 220.0,572.7 221.0,572.5 C222.0,572.2 223.0,572.0 224.0,571.7 C225.0,571.4 226.0,571.2 227.0,570.9 C228.0,570.6 229.0,570.3 230.0,569.9 C231.0,569.6 232.0,569.3 233.0,569.0 C234.0,568.6 235.0,568.3 236.0,567.9 C237.0,567.5 238.0,567.2 239.0,566.8 C240.0,566.4 241.0,566.0 242.0,565.6 C243.0,565.2 244.0,564.7 245.0,564.3 C246.0,563.8 247.0,563.4 248.0,562.9 C249.0,562.5 250.0,562.0 251.0,561.5 C252.0,561.0 253.0,560.5 254.0,559.9 C255.0,559.4 256.0,558.9 257.0,558.3 C258.0,557.7 259.0,557.2 260.0,556.6 C261.0,556.0 262.0,555.4 263.0,554.8 C264.0,554.2 265.0,553.5 266.0,552.9 C267.0,552.2 268.0,551.6 269.0,550.9 C270.0,550.2 271.0,549.5 272.0,548.8 C273.0,548.1 274.0,547.4 275.0,546.7 C276.0,545.9 277.0,545.2 278.0,544.4 C279.0,543.7 280.0,542.9 281.0,542.2 C282.0,541.4 283.0,540.6 284.0,539.8 C285.0,539.0 286.0,538.2 287.0,537.4 C288.0,536.6 289.0,535.8 290.0,534.9 C291.0,534.1 292.0,533.3 293.0,532.4 C294.0,531.6 295.0,530.7 296.0,529.8 C297.0,529.0 298.0,528.1 299.0,527.2 C300.0,526.4 301.0,525.5 302.0,524.6 C303.0,523.7 304.0,522.8 305.0,521.9 C306.0,521.0 307.0,520.1 308.0,519.2 C309.0,518.3 310.0,517.4 311.0,516.5 C312.0,515.6 313.0,514.7 314.0,513.8 C315.0,512.8 316.0,511.9 317.0,511.0 C318.0,510.1 319.0,509.2 320.0,508.2 C321.0,507.3 322.0,506.4 323.0,505.4 C324.0,504.5 325.0,503.6 326.0,502.6 C327.0,501.7 328.0,500.7 329.0,499.8 C330.0,498.8 331.0,497.9 332.0,496.9 C333.0,496.0 334.0,495.0 335.0,494.0 C336.0,493.1 337.0,492.1 338.0,491.1 C339.0,490.1 340.0,489.1 341.0,488.1 C342.0,487.1 343.0,486.1 344.0,485.1 C345.0,484.1 346.0,483.0 347.0,482.0 C348.0,481.0 349.0,479.9 350.0,478.9 C351.0,477.8 352.0,476.7 353.0,475.7 C354.0,474.6 355.0,473.5 356.0,472.4 C357.0,471.3 358.0,470.2 359.0,469.1 C360.0,467.9 361.0,466.8 362.0,465.7 C363.0,464.5 364.0,463.4 365.0,462.2 C366.0,461.0 367.0,459.9 368.0,458.7 C369.0,457.5 370.0,456.3 371.0,455.1 C372.0,453.9 373.0,452.7 374.0,451.5 C375.0,450.3 376.0,449.0 377.0,447.8 C378.0,446.6 379.0,445.3 380.0,444.1 C381.0,442.8 382.0,441.6 383.0,440.3 C384.0,439.1 385.0,437.8 386.0,436.5 C387.0,435.3 388.0,434.0 389.0,432.7 C390.0,431.4 391.0,430.2 392.0,428.9 C393.0,427.6 394.0,426.3 395.0,425.0 C396.0,423.7 397.0,422.4 398.0,421.1 C399.0,419.8 400.0,418.5 401.0,417.2 C402.0,415.9 403.0,414.6 404.0,413.3 C405.0,412.1 406.0,410.8 407.0,409.5 C408.0,408.2 409.0,406.9 410.0,405.6 C411.0,404.3 412.0,403.0 413.0,401.7 C414.0,400.4 415.0,399.1 416.0,397.8 C417.0,396.5 418.0,395.2 419.0,393.9 C420.0,392.6 421.0,391.3 422.0,390.0 C423.0,388.7 424.0,387.3 425.0,386.0 C426.0,384.7 427.0,383.4 428.0,382.1 C429.0,380.8 430.0,379.5 431.0,378.2 C432.0,376.9 433.0,375.6 434.0,374.3 C435.0,373.0 436.0,371.7 437.0,370.4 C438.0,369.1 439.0,367.7 440.0,366.5 C441.0,365.2 442.0,363.9 443.0,362.6 C444.0,361.3 445.0,360.0 446.0,358.7 C447.0,357.4 448.0,356.1 449.0,354.9 C450.0,353.6 451.0,352.3 452.0,351.1 C453.0,349.8 454.0,348.6 455.0,347.3 C456.0,346.1 457.0,344.9 458.0,343.6 C459.0,342.4 460.0,341.2 461.0,340.0 C462.0,338.8 463.0,337.6 464.0,336.4 C465.0,335.2 466.0,334.0 467.0,332.8 C468.0,331.7 469.0,330.5 470.0,329.3 C471.0,328.2 472.0,327.0 473.0,325.9 C474.0,324.7 475.0,323.6 476.0,322.5 C477.0,321.3 478.0,320.2 479.0,319.1 C480.0,318.0 481.0,316.9 482.0,315.8 C483.0,314.7 484.0,313.6 485.0,312.6 C486.0,311.5 487.0,310.4 488.0,309.4 C489.0,308.3 490.0,307.3 491.0,306.2 C492.0,305.2 493.0,304.1 494.0,303.1 C495.0,302.1 496.0,301.1 497.0,300.0 C498.0,299.0 499.0,298.0 500.0,297.0 C501.0,296.0 502.0,295.0 503.0,294.0 C504.0,293.0 505.0,292.1 506.0,291.1 C507.0,290.1 508.0,289.1 509.0,288.2 C510.0,287.2 511.0,286.2 512.0,285.3 C513.0,284.3 514.0,283.4 515.0,282.4 C516.0,281.5 517.0,280.6 518.0,279.6 C519.0,278.7 520.0,277.8 521.0,276.8 C522.0,275.9 523.0,275.0 524.0,274.1 C525.0,273.1 526.0,272.2 527.0,271.3 C528.0,270.4 529.0,269.5 530.0,268.6 C531.0,267.7 532.0,266.8 533.0,265.9 C534.0,265.0 535.0,264.1 536.0,263.2 C537.0,262.3 538.0,261.4 539.0,260.5 C540.0,259.6 541.0,258.8 542.0,257.9 C543.0,257.0 544.0,256.1 545.0,255.2 C546.0,254.3 547.0,253.5 548.0,252.6 C549.0,251.7 550.0,250.8 551.0,250.0 C552.0,249.1 553.0,248.2 554.0,247.3 C555.0,246.5 556.0,245.6 557.0,244.7 C558.0,243.8 559.0,243.0 560.0,242.1 C561.0,241.2 562.0,240.3 563.0,239.5 C564.0,238.6 565.0,237.7 566.0,236.8 C567.0,236.0 568.0,235.1 569.0,234.2 C570.0,233.3 571.0,232.4 572.0,231.6 C573.0,230.7 574.0,229.8 575.0,228.9 C576.0,228.0 577.0,227.1 578.0,226.2 C579.0,225.3 580.0,224.4 581.0,223.5 C582.0,222.6 583.0,221.7 584.0,220.8 C585.0,219.9 586.0,219.0 587.0,218.1 C588.0,217.2 589.0,216.2 590.0,215.3 C591.0,214.4 592.0,213.4 593.0,212.5 C594.0,211.6 595.0,210.6 596.0,209.7 C597.0,208.7 598.0,207.7 599.0,206.8 C600.0,205.8 601.0,204.8 602.0,203.9 C603.0,202.9 604.0,201.9 605.0,200.9 C606.0,199.9 607.0,198.9 608.0,197.9 C609.0,196.9 610.0,195.9 611.0,194.8 C612.0,193.8 613.0,192.8 614.0,191.7 C615.0,190.7 616.0,189.6 617.0,188.5 C618.0,187.5 619.0,186.4 620.0,185.3 C621.0,184.2 622.0,183.1 623.0,182.0 C624.0,180.9 625.0,179.8 626.0,178.7 C627.0,177.5 628.0,176.4 629.0,175.2 C630.0,174.1 631.0,172.9 632.0,171.7 C633.0,170.5 634.0,169.4 635.0,168.1 C636.0,166.9 637.2,165.5 638.0,164.5 C638.8,163.5 639.7,162.4 640.0,162.0" fill="none" stroke="#ff7f0e" stroke-width="2.6" stroke-dasharray="8.5,3.3"/>
<path d="M176.0,579.4 C176.5,579.4 178.0,579.4 179.0,579.3 C180.0,579.3 181.0,579.3 182.0,579.3 C183.0,579.3 184.0,579.2 185.0,579.2 C186.0,579.2 187.0,579.1 188.0,579.1 C189.0,579.1 190.0,579.0 191.0,579.0 C192.0,578.9 193.0,578.9 194.0,578.8 C195.0,578.8 196.0,578.7 197.0,578.7 C198.0,578.6 199.0,578.6 200.0,578.5 C201.0,578.4 202.0,578.4 203.0,578.3 C204.0,578.2 205.0,578.1 206.0,578.1 C207.0,578.0 208.0,577.9 209.0,577.8 C210.0,577.7 211.0,577.6 212.0,577.5 C213.0,577.4 214.0,577.3 215.0,577.2 C216.0,577.1 217.0,577.0 218.0,576.8 C219.0,576.7 220.0,576.6 221.0,576.4 C222.0,576.3 223.0,576.2 224.0,576.0 C225.0,575.9 226.0,575.7 227.0,575.6 C228.0,575.4 229.0,575.2 230.0,575.1 C231.0,574.9 232.0,574.7 233.0,574.5 C234.0,574.3 235.0,574.1 236.0,573.9 C237.0,573.7 238.0,573.5 239.0,573.3 C240.0,573.1 241.0,572.8 242.0,572.6 C243.0,572.4 244.0,572.1 245.0,571.9 C246.0,571.6 247.0,571.4 248.0,571.1 C249.0,570.8 250.0,570.6 251.0,570.3 C252.0,570.0 253.0,569.7 254.0,569.4 C255.0,569.1 256.0,568.8 257.0,568.5 C258.0,568.1 259.0,567.8 260.0,567.5 C261.0,567.1 262.0,566.8 263.0,566.4 C264.0,566.1 265.0,565.7 266.0,565.3 C267.0,564.9 268.0,564.6 269.0,564.2 C270.0,563.8 271.0,563.3 272.0,562.9 C273.0,562.5 274.0,562.1 275.0,561.6 C276.0,561.2 277.0,560.7 278.0,560.3 C279.0,559.8 280.0,559.3 281.0,558.8 C282.0,558.4 283.0,557.9 284.0,557.3 C285.0,556.8 286.0,556.3 287.0,555.8 C288.0,555.2 289.0,554.7 290.0,554.1 C291.0,553.6 292.0,553.0 293.0,552.4 C294.0,551.8 295.0,551.2 296.0,550.6 C297.0,550.0 298.0,549.4 299.0,548.8 C300.0,548.1 301.0,547.5 302.0,546.8 C303.0,546.2 304.0,545.5 305.0,544.8 C306.0,544.1 307.0,543.4 308.0,542.7 C309.0,542.0 310.0,541.3 311.0,540.5 C312.0,539.8 313.0,539.1 314.0,538.3 C315.0,537.6 316.0,536.8 317.0,536.0 C318.0,535.2 319.0,534.4 320.0,533.7 C321.0,532.9 322.0,532.1 323.0,531.2 C324.0,530.4 325.0,529.6 326.0,528.8 C327.0,527.9 328.0,527.1 329.0,526.2 C330.0,525.4 331.0,524.5 332.0,523.7 C333.0,522.8 334.0,521.9 335.0,521.0 C336.0,520.2 337.0,519.3 338.0,518.4 C339.0,517.5 340.0,516.6 341.0,515.7 C342.0,514.8 343.0,513.9 344.0,513.0 C345.0,512.0 346.0,511.1 347.0,510.2 C348.0,509.3 349.0,508.3 350.0,507.4 C351.0,506.5 352.0,505.5 353.0,504.6 C354.0,503.6 355.0,502.7 356.0,501.7 C357.0,500.8 358.0,499.8 359.0,498.9 C360.0,497.9 361.0,496.9 362.0,496.0 C363.0,495.0 364.0,494.0 365.0,493.1 C366.0,492.1 367.0,491.1 368.0,490.2 C369.0,489.2 370.0,488.2 371.0,487.3 C372.0,486.3 373.0,485.3 374.0,484.3 C375.0,483.4 376.0,482.4 377.0,481.4 C378.0,480.4 379.0,479.5 380.0,478.5 C381.0,477.5 382.0,476.6 383.0,475.6 C384.0,474.6 385.0,473.7 386.0,472.7 C387.0,471.7 388.0,470.8 389.0,469.8 C390.0,468.8 391.0,467.9 392.0,466.9 C393.0,466.0 394.0,465.0 395.0,464.1 C396.0,463.1 397.0,462.2 398.0,461.2 C399.0,460.3 400.0,459.4 401.0,458.4 C402.0,457.5 403.0,456.6 404.0,455.6 C405.0,454.7 406.0,453.8 407.0,452.9 C408.0,452.0 409.0,451.1 410.0,450.2 C411.0,449.3 412.0,448.4 413.0,447.5 C414.0,446.6 415.0,445.7 416.0,444.8 C417.0,444.0 418.0,443.1 419.0,442.2 C420.0,441.3 421.0,440.5 422.0,439.6 C423.0,438.7 424.0,437.9 425.0,437.0 C426.0,436.2 427.0,435.3 428.0,434.5 C429.0,433.7 430.0,432.8 431.0,432.0 C432.0,431.2 433.0,430.3 434.0,429.5 C435.0,428.7 436.0,427.9 437.0,427.1 C438.0,426.3 439.0,425.5 440.0,424.7 C441.0,423.9 442.0,423.1 443.0,422.3 C444.0,421.5 445.0,420.7 446.0,419.9 C447.0,419.1 448.0,418.3 449.0,417.6 C450.0,416.8 451.0,416.0 452.0,415.2 C453.0,414.5 454.0,413.7 455.0,413.0 C456.0,412.2 457.0,411.4 458.0,410.7 C459.0,409.9 460.0,409.2 461.0,408.5 C462.0,407.7 463.0,407.0 464.0,406.2 C465.0,405.5 466.0,404.8 467.0,404.1 C468.0,403.3 469.0,402.6 470.0,401.9 C471.0,401.2 472.0,400.5 473.0,399.7 C474.0,399.0 475.0,398.3 476.0,397.6 C477.0,396.9 478.0,396.2 479.0,395.5 C480.0,394.8 481.0,394.1 482.0,393.5 C483.0,392.8 484.0,392.1 485.0,391.4 C486.0,390.7 487.0,390.1 488.0,389.4 C489.0,388.7 490.0,388.0 491.0,387.4 C492.0,386.7 493.0,386.0 494.0,385.4 C495.0,384.7 496.0,384.1 497.0,383.4 C498.0,382.8 499.0,382.1 500.0,381.5 C501.0,380.8 502.0,380.2 503.0,379.5 C504.0,378.9 505.0,378.3 506.0,377.6 C507.0,377.0 508.0,376.4 509.0,375.7 C510.0,375.1 511.0,374.5 512.0,373.9 C513.0,373.3 514.0,372.6 515.0,372.0 C516.0,371.4 517.0,370.8 518.0,370.2 C519.0,369.6 520.0,369.0 521.0,368.4 C522.0,367.8 523.0,367.2 524.0,366.6 C525.0,366.0 526.0,365.4 527.0,364.8 C528.0,364.2 529.0,363.6 530.0,363.0 C531.0,362.4 532.0,361.8 533.0,361.3 C534.0,360.7 535.0,360.1 536.0,359.5 C537.0,358.9 538.0,358.4 539.0,357.8 C540.0,357.2 541.0,356.7 542.0,356.1 C543.0,355.5 544.0,355.0 545.0,354.4 C546.0,353.8 547.0,353.3 548.0,352.7 C549.0,352.1 550.0,351.6 551.0,351.0 C552.0,350.5 553.0,349.9 554.0,349.4 C555.0,348.8 556.0,348.3 557.0,347.7 C558.0,347.2 559.0,346.6 560.0,346.1 C561.0,345.6 562.0,345.0 563.0,344.5 C564.0,343.9 565.0,343.4 566.0,342.9 C567.0,342.3 568.0,341.8 569.0,341.3 C570.0,340.7 571.0,340.2 572.0,339.7 C573.0,339.2 574.0,338.6 575.0,338.1 C576.0,337.6 577.0,337.1 578.0,336.5 C579.0,336.0 580.0,335.5 581.0,335.0 C582.0,334.5 583.0,333.9 584.0,333.4 C585.0,332.9 586.0,332.4 587.0,331.9 C588.0,331.4 589.0,330.9 590.0,330.4 C591.0,329.8 592.0,329.3 593.0,328.8 C594.0,328.3 595.0,327.8 596.0,327.3 C597.0,326.8 598.0,326.3 599.0,325.8 C600.0,325.3 601.0,324.8 602.0,324.3 C603.0,323.8 604.0,323.3 605.0,322.8 C606.0,322.3 607.0,321.8 608.0,321.3 C609.0,320.8 610.0,320.3 611.0,319.8 C612.0,319.3 613.0,318.8 614.0,318.3 C615.0,317.8 616.0,317.3 617.0,316.8 C618.0,316.3 619.0,315.8 620.0,315.4 C621.0,314.9 622.0,314.4 623.0,313.9 C624.0,313.4 625.0,312.9 626.0,312.4 C627.0,311.9 628.0,311.4 629.0,310.9 C630.0,310.4 631.0,310.0 632.0,309.5 C633.0,309.0 634.0,308.5 635.0,308.0 C636.0,307.5 637.2,307.0 638.0,306.5 C638.8,306.1 639.7,305.7 640.0,305.6" fill="none" stroke="#ff7f0e" stroke-width="2.6" stroke-dasharray="8.5,3.3"/>
</g>
<g clip-path="url(#cr)">
<path d="M795.0,248.5 L805.9,243.3 L817.8,236.2 L832.0,230.3 L849.7,224.9 L871.0,220.2 L891.8,217.2 L903.0,210.1 L918.4,201.8 L933.8,194.7 L949.2,190.0 L956.0,187.8 L1000.7,179.1 L1032.1,166.6 L1060.0,155.3 L1073.5,150.5 L1111.4,141.8 L1154.6,138.4 L1195.1,135.0 L1221.4,133.2 L1230.0,135.3 L1244.4,139.6 L1258.8,146.3 L1270.8,155.2 L1280.4,166.0 L1290.0,176.8 L1298.4,187.6 L1297.2,197.2 L1299.6,204.4 L1303.2,214.0 L1304.4,221.2 L1303.5,230.0 L1302.0,240.4 L1300.8,252.4 L1294.8,262.0 L1285.2,268.0 L1273.2,274.0 L1258.8,280.0 L1242.0,284.8 L1230.0,288.4 L1212.1,292.9 L1190.0,298.5 L1176.1,300.1 L1100.0,306.1 L1080.0,307.3 L960.0,310.9 L940.0,311.7 L884.1,311.7 L848.0,309.7 L803.9,306.5 L795.0,306.0 Z" fill="#808080" fill-opacity="0.055" stroke="#808080" stroke-width="1.25"/>
<path d="M973.6,590.0 C973.6,588.6 973.7,589.9 973.5,581.7 C973.3,573.6 972.4,553.9 972.3,541.1 C972.2,528.3 972.6,519.6 972.7,505.1 C972.8,490.6 973.1,464.8 972.7,454.0 C972.3,443.2 971.7,446.4 970.5,440.1 C969.3,433.8 967.1,422.0 965.7,416.1 C964.3,410.2 963.4,408.9 962.2,404.5 C961.0,400.1 961.1,396.2 958.5,389.7 C955.9,383.2 951.7,374.0 946.5,365.6 C941.3,357.2 934.9,346.9 927.3,339.2 C919.7,331.5 908.5,325.0 900.9,319.3 C893.3,313.6 886.5,309.3 881.7,304.9 C876.9,300.5 873.3,296.9 872.1,292.9 C870.9,288.9 872.1,285.3 874.5,280.9 C876.9,276.5 881.3,270.9 886.5,266.5 C891.7,262.1 897.7,257.7 905.7,254.5 C913.7,251.3 925.5,250.3 934.5,247.3 C943.5,244.3 953.1,239.7 960.0,236.5 C966.9,233.3 967.3,231.4 976.0,228.0 C984.7,224.6 1000.1,220.0 1012.1,216.0 C1024.1,212.0 1039.4,206.8 1048.1,204.0 C1056.8,201.2 1057.6,201.1 1064.1,199.2 C1070.6,197.3 1078.7,194.2 1087.0,192.4 C1095.3,190.6 1105.1,190.0 1114.1,188.4 C1123.1,186.8 1132.1,184.7 1141.1,183.0 C1150.1,181.3 1160.2,179.2 1168.1,178.2 C1176.0,177.2 1180.9,176.8 1188.4,176.9 C1195.9,177.0 1206.2,178.0 1213.1,178.8 C1220.0,179.6 1224.0,180.3 1230.0,181.6 C1236.0,182.9 1242.8,184.2 1249.2,186.4 C1255.6,188.6 1262.8,191.0 1268.4,194.8 C1274.0,198.6 1278.4,204.0 1282.8,209.2 C1287.2,214.4 1291.2,220.4 1294.8,226.0 C1298.4,231.6 1301.6,236.8 1304.4,242.8 C1307.2,248.8 1309.6,255.2 1311.6,262.0 C1313.6,268.8 1315.3,277.3 1316.4,283.6 C1317.5,289.9 1317.7,293.9 1318.0,300.0 C1318.3,306.1 1318.4,313.3 1318.3,320.0 C1318.2,326.7 1317.7,333.9 1317.3,340.0 C1316.9,346.1 1317.2,347.6 1315.7,356.3 C1314.2,365.1 1311.6,380.4 1308.4,392.5 C1305.2,404.6 1300.8,414.3 1296.4,428.8 C1292.0,443.3 1287.9,461.8 1281.9,479.5 C1275.9,497.2 1266.9,518.0 1260.2,535.0 C1253.5,552.0 1245.5,572.4 1242.0,581.6 C1238.5,590.8 1239.9,588.6 1239.5,590.0" fill="none" stroke="#000" stroke-width="4.2" stroke-dasharray="11.5,5.5"/>
<path d="M1094.8,590.0 C1095.0,588.9 1094.5,591.1 1096.1,583.6 C1097.7,576.1 1100.8,557.9 1104.2,545.1 C1107.6,532.3 1113.0,517.5 1116.3,506.6 C1119.6,495.8 1121.7,487.8 1124.1,480.0 C1126.5,472.2 1128.5,467.9 1130.5,460.0 C1132.5,452.1 1134.0,441.8 1136.1,432.9 C1138.2,424.0 1141.3,417.3 1143.3,406.5 C1145.3,395.7 1147.3,378.1 1148.1,368.0 C1148.9,357.9 1148.8,352.3 1148.1,346.0 C1147.4,339.7 1145.3,334.9 1144.0,330.0 C1142.7,325.1 1142.8,321.9 1140.1,316.9 C1137.4,311.9 1132.0,304.9 1128.0,300.1 C1124.0,295.3 1119.0,292.1 1116.0,288.1 C1113.0,284.1 1110.8,279.7 1110.0,276.1 C1109.2,272.5 1109.0,270.5 1111.2,266.5 C1113.4,262.5 1119.2,256.0 1123.2,252.1 C1127.2,248.2 1130.5,244.7 1135.3,242.9 C1140.1,241.1 1145.3,242.5 1152.1,241.3 C1158.9,240.1 1169.8,236.9 1176.1,235.7 C1182.4,234.5 1185.8,234.6 1190.0,234.0 C1194.2,233.4 1197.5,232.4 1201.6,232.4 C1205.7,232.4 1209.6,231.8 1214.8,234.0 C1220.0,236.2 1227.8,241.5 1233.0,245.6 C1238.2,249.7 1242.4,253.3 1246.2,258.8 C1250.0,264.3 1253.3,272.1 1256.1,278.7 C1258.8,285.3 1261.2,291.9 1262.7,298.5 C1264.2,305.1 1264.7,311.4 1265.4,318.3 C1266.1,325.2 1266.3,333.7 1266.7,340.0 C1267.1,346.3 1268.1,347.6 1267.8,356.3 C1267.5,365.1 1266.6,380.4 1264.9,392.5 C1263.2,404.6 1260.1,417.9 1257.7,428.8 C1255.3,439.7 1252.8,449.3 1250.5,458.0 C1248.2,466.7 1246.0,472.9 1243.6,481.0 C1241.2,489.1 1240.6,494.2 1235.9,506.6 C1231.2,519.0 1220.8,541.3 1215.6,555.2 C1210.4,569.1 1206.3,584.2 1204.5,590.0" fill="#1f77b4" fill-opacity="0.40" stroke="#1f77b4" stroke-width="2.7"/>
<path d="M1004.9,590.0 C1005.0,583.2 1005.6,560.1 1005.3,549.2 C1005.0,538.4 1003.8,532.7 1002.9,524.9 C1002.0,517.1 1001.3,509.4 999.8,502.6 C998.3,495.8 995.6,491.4 993.7,484.3 C991.9,477.2 990.0,466.6 988.7,460.0 C987.4,453.4 987.4,450.7 986.0,445.0 C984.6,439.3 982.3,432.1 980.1,425.7 C977.9,419.3 976.9,413.3 972.9,406.5 C968.9,399.7 960.5,391.3 956.1,384.9 C951.7,378.5 952.5,376.4 946.5,368.0 C940.5,359.6 928.2,342.5 920.1,334.4 C912.0,326.3 905.2,324.8 898.0,319.5 C890.8,314.2 881.8,307.7 876.9,302.5 C872.0,297.3 869.7,292.5 868.5,288.1 C867.3,283.7 867.9,280.5 869.7,276.1 C871.5,271.7 874.1,266.1 879.3,261.7 C884.5,257.3 892.1,252.4 900.9,249.7 C909.7,247.0 924.1,245.8 932.1,245.3 C940.1,244.8 942.5,245.5 949.0,246.8 C955.5,248.1 960.7,249.2 971.2,253.3 C981.7,257.4 999.3,264.7 1012.1,271.3 C1024.9,277.9 1038.5,286.5 1048.1,292.9 C1057.7,299.3 1064.5,305.2 1069.7,309.7 C1075.0,314.2 1077.2,317.2 1079.6,320.0 C1082.0,322.8 1081.5,322.9 1084.1,326.5 C1086.7,330.1 1091.4,335.1 1095.3,341.6 C1099.2,348.1 1104.6,357.2 1107.3,365.6 C1110.0,374.0 1111.2,382.5 1111.6,392.1 C1112.0,401.7 1110.4,415.3 1109.7,423.3 C1109.0,431.3 1107.1,434.1 1107.3,440.1 C1107.5,446.1 1110.1,452.6 1110.9,459.3 C1111.7,466.0 1111.2,472.8 1112.3,480.3 C1113.4,487.9 1116.1,494.5 1117.4,504.6 C1118.8,514.7 1118.7,532.0 1120.4,541.1 C1122.1,550.2 1125.1,555.2 1127.5,559.3 C1129.9,563.3 1133.0,560.3 1134.6,565.4 C1136.2,570.5 1136.6,585.9 1137.0,590.0" fill="#2ca02c" fill-opacity="0.30" stroke="#2ca02c" stroke-width="2.5"/>
<path d="M1038.4,590.0 C1038.7,583.5 1039.7,562.8 1040.4,551.3 C1041.1,539.8 1041.7,530.9 1042.4,520.8 C1043.1,510.6 1043.9,501.2 1044.4,490.4 C1044.9,479.6 1045.5,466.4 1045.3,456.0 C1045.1,445.6 1044.4,436.8 1043.3,428.1 C1042.2,419.5 1040.1,411.7 1038.5,404.1 C1036.9,396.5 1036.1,389.7 1033.7,382.5 C1031.3,375.3 1027.7,368.0 1024.1,360.8 C1020.5,353.6 1017.3,346.0 1012.1,339.2 C1006.9,332.4 996.9,323.7 992.9,320.0 C988.9,316.3 992.8,320.6 988.0,316.9 C983.2,313.2 969.8,303.7 964.0,297.7 C958.2,291.7 954.4,285.7 953.2,280.9 C952.0,276.1 953.8,273.3 956.8,268.9 C959.8,264.5 964.0,259.3 971.2,254.5 C978.4,249.7 988.5,243.2 1000.1,240.1 C1011.7,237.0 1030.1,235.7 1040.9,235.7 C1051.7,235.7 1057.7,238.2 1064.9,240.1 C1072.1,242.0 1077.6,244.1 1084.1,247.3 C1090.6,250.5 1096.7,253.3 1104.0,259.3 C1111.3,265.3 1121.6,275.3 1128.0,283.3 C1134.4,291.3 1139.3,301.2 1142.5,307.3 C1145.7,313.4 1145.7,314.6 1146.9,320.0 C1148.1,325.4 1148.5,334.0 1149.7,340.0 C1150.9,346.0 1152.8,347.3 1154.1,356.0 C1155.4,364.7 1156.3,379.7 1157.7,392.1 C1159.1,404.5 1161.5,418.4 1162.5,430.5 C1163.5,442.6 1163.9,453.3 1163.8,465.0 C1163.7,476.7 1162.7,487.8 1161.9,500.5 C1161.1,513.2 1159.8,526.2 1158.9,541.1 C1158.0,556.0 1156.7,581.9 1156.3,590.0" fill="#ff7f0e" fill-opacity="0.30" stroke="#ff7f0e" stroke-width="3.0"/>
<path d="M1039.8,590.0 C1040.1,583.5 1041.1,562.8 1041.8,551.3 C1042.5,539.8 1043.1,530.9 1043.8,520.8 C1044.5,510.6 1045.3,501.2 1045.8,490.4 C1046.3,479.6 1046.9,466.4 1046.7,456.0 C1046.5,445.6 1045.8,436.8 1044.7,428.1 C1043.6,419.5 1041.6,411.7 1040.0,404.1 C1038.4,396.5 1037.4,389.7 1035.0,382.5 C1032.6,375.3 1029.1,368.1 1025.5,361.0 C1021.9,353.9 1018.8,346.6 1013.5,340.0 C1008.2,333.4 998.1,325.1 994.0,321.5 C989.9,317.9 993.8,322.2 989.0,318.5 C984.2,314.8 971.2,305.5 965.5,299.3 C959.8,293.1 956.2,286.4 955.0,281.5 C953.8,276.6 955.6,274.2 958.5,270.0 C961.4,265.8 965.4,261.1 972.5,256.5 C979.6,251.9 989.6,245.5 1001.0,242.5 C1012.4,239.5 1030.1,238.5 1040.9,238.5 C1051.7,238.5 1057.5,240.6 1066.0,242.5 C1074.5,244.4 1083.7,246.5 1092.0,249.7 C1100.3,252.9 1108.0,256.5 1116.0,261.7 C1124.0,266.9 1133.3,273.7 1140.1,280.9 C1146.9,288.1 1153.0,298.0 1156.9,304.9 C1160.8,311.8 1162.3,316.5 1163.7,322.4 C1165.1,328.2 1164.1,334.4 1165.3,340.0 C1166.5,345.6 1169.2,347.3 1170.9,356.0 C1172.6,364.7 1174.5,379.7 1175.7,392.1 C1176.9,404.5 1177.5,417.5 1178.1,430.5 C1178.7,443.5 1179.5,458.3 1179.3,470.0 C1179.1,481.7 1178.1,488.6 1177.1,500.5 C1176.1,512.4 1174.3,526.2 1173.1,541.1 C1171.9,556.0 1170.3,581.9 1169.8,590.0" fill="none" stroke="#ff7f0e" stroke-width="2.4" stroke-dasharray="8.6,3.4"/>
</g>
<path d="M100,579.4 L176,578.4" stroke="#708090" stroke-width="7" fill="none"/>
<text transform="translate(85.0,590.50) scale(0.965,1)" font-size="31" text-anchor="end">0.0</text>
<text transform="translate(85.0,524.79) scale(0.965,1)" font-size="31" text-anchor="end">0.1</text>
<text transform="translate(85.0,459.08) scale(0.965,1)" font-size="31" text-anchor="end">0.2</text>
<text transform="translate(85.0,393.37) scale(0.965,1)" font-size="31" text-anchor="end">0.3</text>
<text transform="translate(85.0,327.66) scale(0.965,1)" font-size="31" text-anchor="end">0.4</text>
<text transform="translate(85.0,261.95) scale(0.965,1)" font-size="31" text-anchor="end">0.5</text>
<text transform="translate(85.0,196.24) scale(0.965,1)" font-size="31" text-anchor="end">0.6</text>
<text transform="translate(85.0,130.53) scale(0.965,1)" font-size="31" text-anchor="end">0.7</text>
<text x="103.8" y="615.8" font-size="31.0" text-anchor="middle" >0</text>
<text x="246.7" y="615.8" font-size="31.0" text-anchor="middle" >2</text>
<text x="389.5" y="615.8" font-size="31.0" text-anchor="middle" >4</text>
<text x="532.3" y="615.8" font-size="31.0" text-anchor="middle" >6</text>
<text x="103.8" y="75.3" font-size="31.0" text-anchor="middle" >0.0</text>
<text x="237.7" y="75.3" font-size="31.0" text-anchor="middle" >0.5</text>
<text x="371.6" y="75.3" font-size="31.0" text-anchor="middle" >1.0</text>
<text x="505.5" y="75.3" font-size="31.0" text-anchor="middle" >1.5</text>
<text x="639.4" y="75.3" font-size="31.0" text-anchor="middle" >2.0</text>
<text transform="translate(795.3,596.90) scale(0.965,1)" font-size="31" text-anchor="end">1.00</text>
<text transform="translate(795.3,525.58) scale(0.965,1)" font-size="31" text-anchor="end">1.25</text>
<text transform="translate(795.3,454.27) scale(0.965,1)" font-size="31" text-anchor="end">1.50</text>
<text transform="translate(795.3,382.95) scale(0.965,1)" font-size="31" text-anchor="end">1.75</text>
<text transform="translate(795.3,311.64) scale(0.965,1)" font-size="31" text-anchor="end">2.00</text>
<text transform="translate(795.3,240.32) scale(0.965,1)" font-size="31" text-anchor="end">2.25</text>
<text transform="translate(795.3,169.01) scale(0.965,1)" font-size="31" text-anchor="end">2.50</text>
<text transform="translate(795.3,97.69) scale(0.965,1)" font-size="31" text-anchor="end">2.75</text>
<text x="919.1" y="615.8" font-size="31.0" text-anchor="middle" >11</text>
<text x="1084.9" y="615.8" font-size="31.0" text-anchor="middle" >12</text>
<text x="1250.7" y="615.8" font-size="31.0" text-anchor="middle" >13</text>
<text transform="translate(30.40,430.90) rotate(-90.00) scale(0.8328,1) translate(2.20,0)" font-size="37.50" fill="#000" font-style="italic">p</text>
<text transform="translate(33.02,397.80) rotate(-90.00) scale(0.5004,1) translate(-3.26,0)" font-size="43.98" fill="#000">[</text>
<text transform="translate(30.40,390.40) rotate(-90.00) scale(0.9703,1) translate(-1.54,0)" font-size="37.50" fill="#000">GeV</text>
<text transform="translate(38.38,321.10) rotate(-90.00) scale(1.0077,1) translate(-0.00,0)" font-size="53.22" fill="#000">/</text>
<text transform="translate(30.40,305.40) rotate(-90.00) scale(1.0171,1) translate(-1.15,0)" font-size="37.50" fill="#000">fm</text>
<text transform="translate(17.40,263.20) rotate(-90.00) scale(0.9311,1) translate(-1.24,0)" font-size="26.00" fill="#000">3</text>
<text transform="translate(33.02,251.30) rotate(-90.00) scale(0.5617,1) translate(-1.59,0)" font-size="43.98" fill="#000">]</text>
<text transform="translate(313.90,656.80) scale(1.1667,1) translate(-1.34,0)" font-size="37.50" fill="#000" font-style="italic">n</text>
<text transform="translate(350.00,659.98) scale(0.5679,1) translate(-3.23,0)" font-size="43.50" fill="#000">[</text>
<text transform="translate(356.50,656.80) scale(1.2297,1) translate(-1.34,0)" font-size="37.50" fill="#000" font-style="italic">n</text>
<text transform="translate(377.70,661.30) scale(1.1062,1) translate(-1.07,0)" font-size="26.00" fill="#000">sat</text>
<text transform="translate(410.00,659.98) scale(0.5885,1) translate(-1.57,0)" font-size="43.50" fill="#000">]</text>
<text transform="translate(264.80,30.50) scale(0.9710,1) translate(0.95,0)" font-size="37.50" fill="#000" font-style="italic">ρ</text>
<text transform="translate(297.60,33.28) scale(0.5989,1) translate(-3.23,0)" font-size="43.50" fill="#000">[</text>
<text transform="translate(306.50,30.50) scale(0.9611,1) translate(-3.30,0)" font-size="37.50" fill="#000">10</text>
<text transform="translate(340.70,17.40) scale(0.9956,1) translate(-2.29,0)" font-size="26.00" fill="#000">15</text>
<text transform="translate(366.10,30.50) scale(0.9742,1) translate(-1.61,0)" font-size="37.50" fill="#000">g</text>
<text transform="translate(384.30,38.57) scale(0.9497,1) translate(-0.00,0)" font-size="53.82" fill="#000">/</text>
<text transform="translate(400.70,30.50) scale(1.0046,1) translate(-1.43,0)" font-size="37.50" fill="#000">cm</text>
<text transform="translate(446.00,17.60) scale(0.9963,1) translate(-1.24,0)" font-size="26.00" fill="#000">3</text>
<text transform="translate(458.90,33.28) scale(0.6402,1) translate(-1.57,0)" font-size="43.50" fill="#000">]</text>
<text transform="translate(725.90,396.30) rotate(-90.00) scale(1.0390,1) translate(0.44,0)" font-size="37.50" fill="#000" font-style="italic">M</text>
<text transform="translate(728.90,345.00) rotate(-90.00) scale(0.5296,1) translate(-3.27,0)" font-size="44.10" fill="#000">[</text>
<text transform="translate(725.90,337.50) rotate(-90.00) scale(1.0539,1) translate(0.44,0)" font-size="37.50" fill="#000" font-style="italic">M</text>
<text transform="translate(728.75,284.50) rotate(-90.00) scale(0.5648,1) translate(-1.58,0)" font-size="43.74" fill="#000">]</text>
<circle cx="724.5" cy="295.5" r="7.6" fill="none" stroke="#000" stroke-width="1.3"/><circle cx="724.5" cy="295.5" r="1.7" fill="#000"/>
<text transform="translate(1025.20,657.00) scale(1.1252,1) translate(0.20,0)" font-size="37.50" fill="#000" font-style="italic">R</text>
<text transform="translate(1066.50,660.38) scale(0.5059,1) translate(-3.23,0)" font-size="43.50" fill="#000">[</text>
<text transform="translate(1073.20,657.00) scale(0.9803,1) translate(-0.71,0)" font-size="37.50" fill="#000">km</text>
<text transform="translate(1120.20,660.38) scale(0.5989,1) translate(-1.57,0)" font-size="43.50" fill="#000">]</text>
<text transform="translate(115.80,139.80) scale(1.0017,1) translate(-1.12,0)" font-size="37.00" fill="#000" font-style="italic">d</text>
<text transform="translate(134.90,139.80) scale(1.1275,1) translate(0.43,0)" font-size="37.00" fill="#000" font-style="italic">Ê</text>
<text transform="translate(160.20,145.00) scale(0.9926,1) translate(-1.11,0)" font-size="27.00" fill="#000">GW</text>
<text transform="translate(207.70,147.87) scale(0.9230,1) translate(-0.00,0)" font-size="53.82" fill="#000">/</text>
<text transform="translate(224.70,139.80) scale(0.9616,1) translate(-1.12,0)" font-size="37.00" fill="#000" font-style="italic">d</text>
<text transform="translate(244.20,139.80) scale(1.0864,1) translate(-0.56,0)" font-size="37.00" fill="#000" font-style="italic">Ĵ</text>
<text transform="translate(262.40,145.00) scale(0.9926,1) translate(-1.11,0)" font-size="27.00" fill="#000">GW</text>
<text transform="translate(323.30,139.95) scale(0.8042,1) translate(-1.74,0)" font-size="39.70" fill="#000">(</text>
<text transform="translate(335.10,139.80) scale(1.2882,1) translate(-0.42,0)" font-size="37.00" fill="#000" font-style="italic">f</text>
<text transform="translate(352.00,144.80) scale(1.0178,1) translate(-1.10,0)" font-size="25.00" fill="#000">2</text>
<text transform="translate(366.20,139.95) scale(0.8238,1) translate(-1.28,0)" font-size="39.70" fill="#000">)</text>
<path d="M391.9,127.1 H415.5 M391.9,134.1 H415.5" stroke="#000" stroke-width="1.7"/>
<text transform="translate(222.30,188.00) scale(1.0457,1) translate(-1.36,0)" font-size="31.00" fill="#000">2.9 (2.6kHz)</text>
<text transform="translate(222.30,235.30) scale(1.0466,1) translate(-1.48,0)" font-size="31.00" fill="#000">3.2 (3.0kHz)</text>
<text transform="translate(222.30,282.60) scale(1.0466,1) translate(-1.48,0)" font-size="31.00" fill="#000">3.4 (3.4kHz)</text>
<text transform="translate(222.50,328.20) scale(1.3939,1) translate(-0.35,0)" font-size="31.00" fill="#000" font-style="italic">f</text>
<text transform="translate(237.60,333.30) scale(1.0658,1) translate(-0.97,0)" font-size="22.00" fill="#000">2</text>
<text transform="translate(259.80,328.20) scale(1.0407,1) translate(-1.18,0)" font-size="31.00" fill="#000">only</text>
<rect x="131.8" y="164.5" width="65.4" height="24.4" fill="#1f77b4" fill-opacity="0.4"/>
<rect x="131.8" y="212" width="65.4" height="24.4" fill="#ff7f0e" fill-opacity="0.3"/>
<rect x="131.8" y="259.1" width="65.4" height="24.4" fill="#2ca02c" fill-opacity="0.3"/>
<path d="M133,317 H196" stroke="#ff7f0e" stroke-width="2.3" stroke-dasharray="8.5,3.3"/>
<text x="108.5" y="560.8" font-size="29" fill="#708090">CEFT</text>
<text x="878.5" y="444.5" font-size="31">95%</text>
<text transform="translate(479.00,499.00) rotate(-9.40) scale(1.0627,1) translate(-1.00,0)" font-size="31.0" fill="#000">95% <tspan font-style="italic">p</tspan>(<tspan font-style="italic">n</tspan>)</text>
<text transform="translate(443.80,264.00) rotate(-49.00) scale(1.0478,1) translate(-1.00,0)" font-size="31.0" fill="#808080">95% TOV</text>
<text transform="translate(924.80,185.60) rotate(-15.60) scale(1.0556,1) translate(-1.00,0)" font-size="31.0" fill="#808080">95% TOV</text>
</svg></body></html>
